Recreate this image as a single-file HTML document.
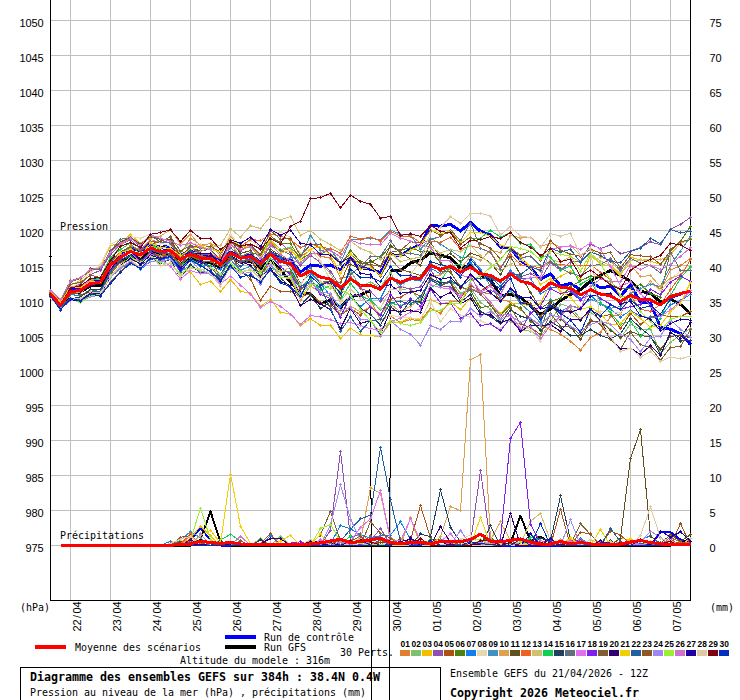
<!DOCTYPE html>
<html lang="fr"><head><meta charset="utf-8"><title>Diagramme des ensembles GEFS</title>
<style>html,body{margin:0;padding:0;background:#fff}svg{display:block}text{font-family:"DejaVu Sans Mono","Liberation Mono",monospace;fill:#000}.s{font-size:11px}.b{font-size:11.5px;font-weight:bold}.t{font-family:"Liberation Sans","DejaVu Sans",sans-serif;font-size:8.4px;font-weight:bold}.n{font-family:"Liberation Sans","DejaVu Sans",sans-serif;font-size:11px}.m{fill:none;stroke-width:1}</style></head><body>
<svg width="740" height="700" viewBox="0 0 740 700" shape-rendering="crispEdges">
<rect width="740" height="700" fill="#fff"/>
<defs>
<marker id="k1" markerUnits="userSpaceOnUse" markerWidth="3" markerHeight="3" refX="1.5" refY="1.5"><path d="M1 0h1v1h1v1h-1v1h-1v-1h-1v-1h1z" fill="#E08030"/></marker>
<marker id="k2" markerUnits="userSpaceOnUse" markerWidth="3" markerHeight="3" refX="1.5" refY="1.5"><path d="M1 0h1v1h1v1h-1v1h-1v-1h-1v-1h1z" fill="#80C070"/></marker>
<marker id="k3" markerUnits="userSpaceOnUse" markerWidth="3" markerHeight="3" refX="1.5" refY="1.5"><path d="M1 0h1v1h1v1h-1v1h-1v-1h-1v-1h1z" fill="#F0C000"/></marker>
<marker id="k4" markerUnits="userSpaceOnUse" markerWidth="3" markerHeight="3" refX="1.5" refY="1.5"><path d="M1 0h1v1h1v1h-1v1h-1v-1h-1v-1h1z" fill="#9050B0"/></marker>
<marker id="k5" markerUnits="userSpaceOnUse" markerWidth="3" markerHeight="3" refX="1.5" refY="1.5"><path d="M1 0h1v1h1v1h-1v1h-1v-1h-1v-1h1z" fill="#B05010"/></marker>
<marker id="k6" markerUnits="userSpaceOnUse" markerWidth="3" markerHeight="3" refX="1.5" refY="1.5"><path d="M1 0h1v1h1v1h-1v1h-1v-1h-1v-1h1z" fill="#508010"/></marker>
<marker id="k7" markerUnits="userSpaceOnUse" markerWidth="3" markerHeight="3" refX="1.5" refY="1.5"><path d="M1 0h1v1h1v1h-1v1h-1v-1h-1v-1h1z" fill="#1080F0"/></marker>
<marker id="k8" markerUnits="userSpaceOnUse" markerWidth="3" markerHeight="3" refX="1.5" refY="1.5"><path d="M1 0h1v1h1v1h-1v1h-1v-1h-1v-1h1z" fill="#E8D8B0"/></marker>
<marker id="k9" markerUnits="userSpaceOnUse" markerWidth="3" markerHeight="3" refX="1.5" refY="1.5"><path d="M1 0h1v1h1v1h-1v1h-1v-1h-1v-1h1z" fill="#4090C0"/></marker>
<marker id="k10" markerUnits="userSpaceOnUse" markerWidth="3" markerHeight="3" refX="1.5" refY="1.5"><path d="M1 0h1v1h1v1h-1v1h-1v-1h-1v-1h1z" fill="#E0A050"/></marker>
<marker id="k11" markerUnits="userSpaceOnUse" markerWidth="3" markerHeight="3" refX="1.5" refY="1.5"><path d="M1 0h1v1h1v1h-1v1h-1v-1h-1v-1h1z" fill="#605020"/></marker>
<marker id="k12" markerUnits="userSpaceOnUse" markerWidth="3" markerHeight="3" refX="1.5" refY="1.5"><path d="M1 0h1v1h1v1h-1v1h-1v-1h-1v-1h1z" fill="#F06020"/></marker>
<marker id="k13" markerUnits="userSpaceOnUse" markerWidth="3" markerHeight="3" refX="1.5" refY="1.5"><path d="M1 0h1v1h1v1h-1v1h-1v-1h-1v-1h1z" fill="#D0C070"/></marker>
<marker id="k14" markerUnits="userSpaceOnUse" markerWidth="3" markerHeight="3" refX="1.5" refY="1.5"><path d="M1 0h1v1h1v1h-1v1h-1v-1h-1v-1h1z" fill="#10D050"/></marker>
<marker id="k15" markerUnits="userSpaceOnUse" markerWidth="3" markerHeight="3" refX="1.5" refY="1.5"><path d="M1 0h1v1h1v1h-1v1h-1v-1h-1v-1h1z" fill="#204060"/></marker>
<marker id="k16" markerUnits="userSpaceOnUse" markerWidth="3" markerHeight="3" refX="1.5" refY="1.5"><path d="M1 0h1v1h1v1h-1v1h-1v-1h-1v-1h1z" fill="#607080"/></marker>
<marker id="k17" markerUnits="userSpaceOnUse" markerWidth="3" markerHeight="3" refX="1.5" refY="1.5"><path d="M1 0h1v1h1v1h-1v1h-1v-1h-1v-1h1z" fill="#E070F0"/></marker>
<marker id="k18" markerUnits="userSpaceOnUse" markerWidth="3" markerHeight="3" refX="1.5" refY="1.5"><path d="M1 0h1v1h1v1h-1v1h-1v-1h-1v-1h1z" fill="#8020F0"/></marker>
<marker id="k19" markerUnits="userSpaceOnUse" markerWidth="3" markerHeight="3" refX="1.5" refY="1.5"><path d="M1 0h1v1h1v1h-1v1h-1v-1h-1v-1h1z" fill="#806030"/></marker>
<marker id="k20" markerUnits="userSpaceOnUse" markerWidth="3" markerHeight="3" refX="1.5" refY="1.5"><path d="M1 0h1v1h1v1h-1v1h-1v-1h-1v-1h1z" fill="#300070"/></marker>
<marker id="k21" markerUnits="userSpaceOnUse" markerWidth="3" markerHeight="3" refX="1.5" refY="1.5"><path d="M1 0h1v1h1v1h-1v1h-1v-1h-1v-1h1z" fill="#F0D000"/></marker>
<marker id="k22" markerUnits="userSpaceOnUse" markerWidth="3" markerHeight="3" refX="1.5" refY="1.5"><path d="M1 0h1v1h1v1h-1v1h-1v-1h-1v-1h1z" fill="#2060A0"/></marker>
<marker id="k23" markerUnits="userSpaceOnUse" markerWidth="3" markerHeight="3" refX="1.5" refY="1.5"><path d="M1 0h1v1h1v1h-1v1h-1v-1h-1v-1h1z" fill="#905820"/></marker>
<marker id="k24" markerUnits="userSpaceOnUse" markerWidth="3" markerHeight="3" refX="1.5" refY="1.5"><path d="M1 0h1v1h1v1h-1v1h-1v-1h-1v-1h1z" fill="#A088F0"/></marker>
<marker id="k25" markerUnits="userSpaceOnUse" markerWidth="3" markerHeight="3" refX="1.5" refY="1.5"><path d="M1 0h1v1h1v1h-1v1h-1v-1h-1v-1h1z" fill="#98F030"/></marker>
<marker id="k26" markerUnits="userSpaceOnUse" markerWidth="3" markerHeight="3" refX="1.5" refY="1.5"><path d="M1 0h1v1h1v1h-1v1h-1v-1h-1v-1h1z" fill="#D070D0"/></marker>
<marker id="k27" markerUnits="userSpaceOnUse" markerWidth="3" markerHeight="3" refX="1.5" refY="1.5"><path d="M1 0h1v1h1v1h-1v1h-1v-1h-1v-1h1z" fill="#2000A0"/></marker>
<marker id="k28" markerUnits="userSpaceOnUse" markerWidth="3" markerHeight="3" refX="1.5" refY="1.5"><path d="M1 0h1v1h1v1h-1v1h-1v-1h-1v-1h1z" fill="#E0C8A0"/></marker>
<marker id="k29" markerUnits="userSpaceOnUse" markerWidth="3" markerHeight="3" refX="1.5" refY="1.5"><path d="M1 0h1v1h1v1h-1v1h-1v-1h-1v-1h1z" fill="#800010"/></marker>
<marker id="k30" markerUnits="userSpaceOnUse" markerWidth="3" markerHeight="3" refX="1.5" refY="1.5"><path d="M1 0h1v1h1v1h-1v1h-1v-1h-1v-1h1z" fill="#0030C0"/></marker>
</defs>
<path d="M70.5 0V600M110.5 0V600M150.5 0V600M190.5 0V600M230.5 0V600M270.5 0V600M310.5 0V600M350.5 0V600M390.5 0V600M430.5 0V600M470.5 0V600M510.5 0V600M550.5 0V600M590.5 0V600M630.5 0V600M670.5 0V600M51 20.5H691M51 55.5H691M51 90.5H691M51 125.5H691M51 160.5H691M51 195.5H691M51 230.5H691M51 265.5H691M51 300.5H691M51 335.5H691M51 370.5H691M51 405.5H691M51 440.5H691M51 475.5H691M51 510.5H691M51 545.5H691" stroke="#c0c0c0" stroke-width="1" fill="none"/>
<path d="M50.5 0V600.5H690.5V0" stroke="#000" stroke-width="1" fill="none"/>
<path d="M49 256.5H52" stroke="#000" stroke-width="1" fill="none"/>
<text class="n" x="19.5 25.5 31.5 37.5" y="27">1050</text>
<text class="n" x="709.5 715.5" y="27">75</text>
<text class="n" x="19.5 25.5 31.5 37.5" y="62">1045</text>
<text class="n" x="709.5 715.5" y="62">70</text>
<text class="n" x="19.5 25.5 31.5 37.5" y="97">1040</text>
<text class="n" x="709.5 715.5" y="97">65</text>
<text class="n" x="19.5 25.5 31.5 37.5" y="132">1035</text>
<text class="n" x="709.5 715.5" y="132">60</text>
<text class="n" x="19.5 25.5 31.5 37.5" y="167">1030</text>
<text class="n" x="709.5 715.5" y="167">55</text>
<text class="n" x="19.5 25.5 31.5 37.5" y="202">1025</text>
<text class="n" x="709.5 715.5" y="202">50</text>
<text class="n" x="19.5 25.5 31.5 37.5" y="237">1020</text>
<text class="n" x="709.5 715.5" y="237">45</text>
<text class="n" x="19.5 25.5 31.5 37.5" y="272">1015</text>
<text class="n" x="709.5 715.5" y="272">40</text>
<text class="n" x="19.5 25.5 31.5 37.5" y="307">1010</text>
<text class="n" x="709.5 715.5" y="307">35</text>
<text class="n" x="19.5 25.5 31.5 37.5" y="342">1005</text>
<text class="n" x="709.5 715.5" y="342">30</text>
<text class="n" x="19.5 25.5 31.5 37.5" y="377">1000</text>
<text class="n" x="709.5 715.5" y="377">25</text>
<text class="n" x="25.5 31.5 37.5" y="412">995</text>
<text class="n" x="709.5 715.5" y="412">20</text>
<text class="n" x="25.5 31.5 37.5" y="447">990</text>
<text class="n" x="709.5 715.5" y="447">15</text>
<text class="n" x="25.5 31.5 37.5" y="482">985</text>
<text class="n" x="709.5 715.5" y="482">10</text>
<text class="n" x="25.5 31.5 37.5" y="517">980</text>
<text class="n" x="709.5" y="517">5</text>
<text class="n" x="25.5 31.5 37.5" y="552">975</text>
<text class="n" x="709.5" y="552">0</text>
<text x="20" y="611" class="s" textLength="30" lengthAdjust="spacingAndGlyphs">(hPa)</text>
<text x="710" y="611" class="s" textLength="24" lengthAdjust="spacingAndGlyphs">(mm)</text>
<text class="n" x="0 6 13.5 18 24" y="0" transform="translate(81,631.5) rotate(-90)">22/04</text>
<text class="n" x="0 6 13.5 18 24" y="0" transform="translate(121,631.5) rotate(-90)">23/04</text>
<text class="n" x="0 6 13.5 18 24" y="0" transform="translate(161,631.5) rotate(-90)">24/04</text>
<text class="n" x="0 6 13.5 18 24" y="0" transform="translate(201,631.5) rotate(-90)">25/04</text>
<text class="n" x="0 6 13.5 18 24" y="0" transform="translate(241,631.5) rotate(-90)">26/04</text>
<text class="n" x="0 6 13.5 18 24" y="0" transform="translate(281,631.5) rotate(-90)">27/04</text>
<text class="n" x="0 6 13.5 18 24" y="0" transform="translate(321,631.5) rotate(-90)">28/04</text>
<text class="n" x="0 6 13.5 18 24" y="0" transform="translate(361,631.5) rotate(-90)">29/04</text>
<text class="n" x="0 6 13.5 18 24" y="0" transform="translate(401,631.5) rotate(-90)">30/04</text>
<text class="n" x="0 6 13.5 18 24" y="0" transform="translate(441,631.5) rotate(-90)">01/05</text>
<text class="n" x="0 6 13.5 18 24" y="0" transform="translate(481,631.5) rotate(-90)">02/05</text>
<text class="n" x="0 6 13.5 18 24" y="0" transform="translate(521,631.5) rotate(-90)">03/05</text>
<text class="n" x="0 6 13.5 18 24" y="0" transform="translate(561,631.5) rotate(-90)">04/05</text>
<text class="n" x="0 6 13.5 18 24" y="0" transform="translate(601,631.5) rotate(-90)">05/05</text>
<text class="n" x="0 6 13.5 18 24" y="0" transform="translate(641,631.5) rotate(-90)">06/05</text>
<text class="n" x="0 6 13.5 18 24" y="0" transform="translate(681,631.5) rotate(-90)">07/05</text>
<polyline fill="none" stroke="#0000ff" stroke-width="3" stroke-linejoin="round" points="50.5,292.5 60.5,303.1 70.5,289.6 80.5,287.3 90.5,280.4 100.5,279.2 110.5,261.4 120.5,253.8 130.5,247.6 140.5,251.0 150.5,243.7 160.5,247.2 170.5,246.3 180.5,255.5 190.5,250.8 200.5,255.7 210.5,256.8 220.5,262.9 230.5,252.1 240.5,256.9 250.5,254.9 260.5,262.2 270.5,252.0 280.5,258.4 290.5,260.4 300.5,272.1 310.5,265.0 320.5,266.2 330.5,265.0 340.5,269.9 350.5,258.5 360.5,267.5 370.5,269.2 380.5,272.4 390.5,254.5 400.5,256.0 410.5,249.2 420.5,245.0 430.5,225.7 440.5,226.1 450.5,224.4 460.5,231.0 470.5,222.4 480.5,231.3 490.5,234.9 500.5,247.1 510.5,248.3 520.5,260.4 530.5,267.7 540.5,279.4 550.5,273.8 560.5,285.9 570.5,283.5 580.5,289.6 590.5,281.8 600.5,287.9 610.5,286.2 620.5,295.9 630.5,285.0 640.5,302.0 650.5,303.2 660.5,327.5 670.5,329.2 680.5,333.6 690.5,344.5"/>
<polyline fill="none" stroke="#000" stroke-width="3" stroke-linejoin="round" points="50.5,295.5 60.5,306.5 70.5,293.7 80.5,291.9 90.5,285.8 100.5,285.2 110.5,268.2 120.5,261.1 130.5,255.7 140.5,259.2 150.5,252.2 160.5,255.6 170.5,254.7 180.5,263.3 190.5,258.2 200.5,262.1 210.5,262.4 220.5,267.9 230.5,257.0 240.5,262.3 250.5,261.0 260.5,268.7 270.5,260.1 280.5,269.9 290.5,282.0 300.5,292.9 310.5,294.1 320.5,303.9 330.5,300.0 340.5,307.5 350.5,296.6 360.5,295.0 370.5,290.5"/>
<polyline fill="none" stroke="#000" stroke-width="3" stroke-linejoin="round" points="390.5,270.0 400.5,270.5 410.5,263.0 420.5,260.1 430.5,252.9 440.5,255.3 450.5,257.7 460.5,268.6 470.5,264.8 480.5,275.0 490.5,279.9 500.5,295.6 510.5,294.4 520.5,297.3 530.5,306.1 540.5,314.3 550.5,309.0 560.5,300.5 570.5,294.4 580.5,289.6 590.5,281.0 600.5,275.2 610.5,270.4 620.5,275.3 630.5,281.4 640.5,291.1 650.5,293.5 660.5,302.0 670.5,299.1 680.5,304.4 690.5,314.1"/>
<path d="M370.5 290.5L371.5 700M390.5 270.0L389.5 700" stroke="#000" stroke-width="1" fill="none"/>
<polyline fill="none" stroke="#0000ff" stroke-width="2" stroke-linejoin="round" points="60.5,545.5 70.5,545.5 80.5,545.5 90.5,545.5 100.5,545.5 110.5,545.5 120.5,545.5 130.5,545.5 140.5,545.5 150.5,545.5 160.5,545.5 170.5,545.5 180.5,545.5 190.5,540.0 200.5,528.0 210.5,540.0 220.5,545.5 230.5,545.5 240.5,545.5 250.5,545.5 260.5,545.5 270.5,545.5 280.5,545.5 290.5,545.5 300.5,545.5 310.5,545.5 320.5,545.5 330.5,545.5 340.5,545.5 350.5,545.5 360.5,545.5 370.5,545.5 380.5,545.5 390.5,545.5 400.5,545.5 410.5,545.5 420.5,545.5 430.5,545.5 440.5,545.5 450.5,545.5 460.5,545.5 470.5,545.5 480.5,545.5 490.5,545.5 500.5,545.5 510.5,545.5 520.5,545.5 530.5,545.5 540.5,545.5 550.5,545.5 560.5,545.5 570.5,545.5 580.5,545.5 590.5,545.5 600.5,545.5 610.5,545.5 620.5,545.5 630.5,545.5 640.5,545.5 650.5,545.5 660.5,532.2 670.5,532.2 680.5,539.5 690.5,542.6"/>
<polyline fill="none" stroke="#000" stroke-width="2" stroke-linejoin="round" points="60.5,545.5 70.5,545.5 80.5,545.5 90.5,545.5 100.5,545.5 110.5,545.5 120.5,545.5 130.5,545.5 140.5,545.5 150.5,545.5 160.5,545.5 170.5,545.5 180.5,545.5 190.5,545.5 200.5,539.5 210.5,511.5 220.5,542.3 230.5,545.5 240.5,545.5 250.5,545.5 260.5,545.5 270.5,545.5 280.5,545.5 290.5,545.5 300.5,545.5 310.5,545.5 320.5,545.5 330.5,545.5 340.5,545.5 350.5,545.5 360.5,545.5 370.5,545.5 380.5,545.5 390.5,545.5 400.5,545.5 410.5,545.5 420.5,545.5 430.5,545.5 440.5,545.5 450.5,545.5 460.5,545.5 470.5,545.5 480.5,545.5 490.5,545.5 500.5,545.5 510.5,543.0 520.5,515.7 530.5,541.0 540.5,536.6 550.5,543.0 560.5,545.5 570.5,545.5 580.5,545.5 590.5,545.5 600.5,545.5 610.5,545.5 620.5,545.5 630.5,545.5 640.5,545.5 650.5,545.5 660.5,545.5 670.5,545.5 680.5,543.0 690.5,538.4"/>
<polyline class="m" stroke="#E08030" marker-start="url(#k1)" marker-mid="url(#k1)" marker-end="url(#k1)" points="50.5,293.7 60.5,304.2 70.5,290.4 80.5,289.7 90.5,283.0 100.5,281.2 110.5,262.1 120.5,253.3 130.5,245.7 140.5,249.8 150.5,239.7 160.5,242.5 170.5,242.8 180.5,254.1 190.5,238.3 200.5,244.8 210.5,243.7 220.5,256.1 230.5,235.8 240.5,249.9 250.5,244.5 260.5,256.3 270.5,242.4 280.5,251.1 290.5,247.9 300.5,256.5 310.5,250.3 320.5,256.2 330.5,258.2 340.5,278.1 350.5,276.7 360.5,287.9 370.5,299.5 380.5,319.9 390.5,316.0 400.5,322.6 410.5,319.7 420.5,320.7 430.5,308.4 440.5,313.2 450.5,301.6 460.5,301.5 470.5,288.2 480.5,292.6 490.5,293.5 500.5,299.2 510.5,302.0 520.5,309.6 530.5,319.0 540.5,325.7 550.5,329.5 560.5,334.2 570.5,341.2 580.5,350.0 590.5,337.7 600.5,332.4 610.5,316.6 620.5,314.6 630.5,292.1 640.5,291.3 650.5,281.7 660.5,289.6 670.5,269.9 680.5,265.8 690.5,258.2"/>
<polyline class="m" stroke="#80C070" marker-start="url(#k2)" marker-mid="url(#k2)" marker-end="url(#k2)" points="50.5,292.6 60.5,303.2 70.5,288.0 80.5,287.3 90.5,279.2 100.5,279.0 110.5,265.0 120.5,252.5 130.5,248.2 140.5,257.9 150.5,246.1 160.5,248.8 170.5,244.5 180.5,252.0 190.5,242.3 200.5,248.0 210.5,248.2 220.5,253.0 230.5,239.8 240.5,244.7 250.5,247.8 260.5,257.1 270.5,240.5 280.5,249.5 290.5,247.3 300.5,264.8 310.5,254.9 320.5,263.0 330.5,273.9 340.5,289.8 350.5,271.3 360.5,286.5 370.5,282.0 380.5,287.2 390.5,272.5 400.5,289.6 410.5,288.6 420.5,302.0 430.5,276.8 440.5,286.8 450.5,280.2 460.5,293.4 470.5,287.7 480.5,302.4 490.5,309.2 500.5,321.5 510.5,321.0 520.5,329.5 530.5,331.3 540.5,337.0 550.5,321.9 560.5,304.0 570.5,307.0 580.5,318.6 590.5,312.0 600.5,320.9 610.5,329.3 620.5,338.4 630.5,324.0 640.5,329.4 650.5,329.0 660.5,353.4 670.5,342.3 680.5,334.9 690.5,328.5"/>
<polyline class="m" stroke="#F0C000" marker-start="url(#k3)" marker-mid="url(#k3)" marker-end="url(#k3)" points="50.5,291.3 60.5,301.8 70.5,284.9 80.5,280.5 90.5,270.3 100.5,266.8 110.5,245.5 120.5,243.2 130.5,234.3 140.5,244.0 150.5,238.0 160.5,250.0 170.5,255.0 180.5,268.0 190.5,272.0 200.5,284.6 210.5,281.0 220.5,291.7 230.5,279.6 240.5,291.2 250.5,293.6 260.5,306.3 270.5,299.5 280.5,312.3 290.5,314.0 300.5,325.4 310.5,318.8 320.5,325.4 330.5,325.4 340.5,338.3 350.5,328.2 360.5,334.9 370.5,335.8 380.5,336.4 390.5,322.6 400.5,322.0 410.5,318.0 420.5,320.0 430.5,299.9 440.5,304.0 450.5,302.0 460.5,309.6 470.5,298.0 480.5,307.7 490.5,305.8 500.5,313.4 510.5,303.0 520.5,303.9 530.5,305.8 540.5,303.9 550.5,282.1 560.5,276.2 570.5,271.4 580.5,279.3 590.5,255.5 600.5,264.1 610.5,266.1 620.5,276.1 630.5,257.2 640.5,259.9 650.5,261.3 660.5,264.5 670.5,253.9 680.5,243.7 690.5,238.2"/>
<polyline class="m" stroke="#9050B0" marker-start="url(#k4)" marker-mid="url(#k4)" marker-end="url(#k4)" points="50.5,292.6 60.5,304.0 70.5,287.8 80.5,283.8 90.5,274.5 100.5,270.3 110.5,254.2 120.5,245.0 130.5,239.8 140.5,249.7 150.5,241.1 160.5,242.9 170.5,240.0 180.5,257.9 190.5,245.4 200.5,253.8 210.5,253.0 220.5,260.6 230.5,244.4 240.5,251.1 250.5,245.2 260.5,256.7 270.5,238.3 280.5,242.2 290.5,252.3 300.5,265.7 310.5,255.2 320.5,262.5 330.5,271.3 340.5,286.7 350.5,277.5 360.5,288.7 370.5,291.5 380.5,301.2 390.5,289.9 400.5,286.8 410.5,289.0 420.5,286.9 430.5,269.4 440.5,285.6 450.5,287.1 460.5,296.8 470.5,288.5 480.5,293.8 490.5,290.4 500.5,295.0 510.5,272.2 520.5,276.8 530.5,273.4 540.5,279.6 550.5,262.7 560.5,270.3 570.5,262.0 580.5,261.1 590.5,244.2 600.5,248.6 610.5,244.9 620.5,253.9 630.5,251.0 640.5,247.4 650.5,241.8 660.5,244.9 670.5,229.1 680.5,224.3 690.5,217.5"/>
<polyline class="m" stroke="#B05010" marker-start="url(#k5)" marker-mid="url(#k5)" marker-end="url(#k5)" points="50.5,291.5 60.5,299.7 70.5,280.9 80.5,277.4 90.5,270.8 100.5,268.8 110.5,252.0 120.5,243.0 130.5,237.8 140.5,245.8 150.5,236.9 160.5,239.0 170.5,240.4 180.5,258.2 190.5,246.9 200.5,255.8 210.5,258.2 220.5,277.4 230.5,254.6 240.5,270.5 250.5,279.0 260.5,300.2 270.5,286.1 280.5,291.2 290.5,291.2 300.5,296.6 310.5,293.9 320.5,302.6 330.5,305.6 340.5,315.0 350.5,308.4 360.5,315.0 370.5,306.5 380.5,315.0 390.5,299.0 400.5,297.1 410.5,291.4 420.5,296.3 430.5,279.6 440.5,285.7 450.5,282.2 460.5,297.4 470.5,285.5 480.5,291.1 490.5,284.4 500.5,301.8 510.5,290.2 520.5,302.5 530.5,303.3 540.5,316.7 550.5,302.4 560.5,313.0 570.5,310.0 580.5,320.9 590.5,309.5 600.5,316.9 610.5,314.3 620.5,328.6 630.5,313.3 640.5,324.5 650.5,316.6 660.5,315.7 670.5,316.3 680.5,316.6 690.5,311.4"/>
<polyline class="m" stroke="#508010" marker-start="url(#k6)" marker-mid="url(#k6)" marker-end="url(#k6)" points="50.5,296.0 60.5,307.0 70.5,294.6 80.5,295.7 90.5,289.7 100.5,291.7 110.5,274.2 120.5,262.1 130.5,259.0 140.5,260.4 150.5,254.6 160.5,255.8 170.5,255.5 180.5,265.2 190.5,255.8 200.5,259.9 210.5,257.2 220.5,262.1 230.5,253.2 240.5,257.3 250.5,252.1 260.5,255.7 270.5,236.1 280.5,243.2 290.5,243.8 300.5,259.4 310.5,253.5 320.5,254.1 330.5,249.0 340.5,264.5 350.5,250.3 360.5,261.8 370.5,262.7 380.5,257.0 390.5,246.6 400.5,250.4 410.5,247.5 420.5,251.6 430.5,251.3 440.5,262.3 450.5,272.2 460.5,286.8 470.5,290.7 480.5,307.7 490.5,305.8 500.5,315.3 510.5,304.9 520.5,307.7 530.5,321.0 540.5,329.5 550.5,301.6 560.5,298.0 570.5,286.4 580.5,280.9 590.5,276.0 600.5,276.1 610.5,284.3 620.5,288.6 630.5,288.7 640.5,284.2 650.5,293.7 660.5,297.0 670.5,249.8 680.5,241.3 690.5,226.2"/>
<polyline class="m" stroke="#1080F0" marker-start="url(#k7)" marker-mid="url(#k7)" marker-end="url(#k7)" points="50.5,295.2 60.5,306.5 70.5,294.0 80.5,296.2 90.5,291.7 100.5,293.1 110.5,277.1 120.5,268.9 130.5,261.8 140.5,269.3 150.5,261.4 160.5,260.5 170.5,257.4 180.5,265.9 190.5,260.0 200.5,266.4 210.5,265.5 220.5,269.9 230.5,256.9 240.5,261.1 250.5,258.5 260.5,266.4 270.5,255.0 280.5,258.0 290.5,265.2 300.5,283.8 310.5,273.0 320.5,283.3 330.5,296.0 340.5,306.4 350.5,297.3 360.5,306.6 370.5,298.3 380.5,298.5 390.5,278.4 400.5,284.9 410.5,279.8 420.5,280.4 430.5,267.9 440.5,273.9 450.5,266.6 460.5,271.2 470.5,262.8 480.5,275.0 490.5,278.0 500.5,282.6 510.5,270.6 520.5,278.6 530.5,278.5 540.5,293.8 550.5,287.9 560.5,287.2 570.5,289.3 580.5,298.8 590.5,295.1 600.5,304.4 610.5,309.1 620.5,317.0 630.5,310.6 640.5,316.2 650.5,317.7 660.5,316.8 670.5,304.9 680.5,300.6 690.5,294.2"/>
<polyline class="m" stroke="#E8D8B0" marker-start="url(#k8)" marker-mid="url(#k8)" marker-end="url(#k8)" points="50.5,294.3 60.5,303.8 70.5,287.9 80.5,282.4 90.5,272.7 100.5,264.9 110.5,243.9 120.5,239.8 130.5,236.6 140.5,238.2 150.5,234.2 160.5,243.0 170.5,246.0 180.5,252.5 190.5,243.0 200.5,244.9 210.5,246.5 220.5,253.6 230.5,234.6 240.5,246.0 250.5,240.5 260.5,247.0 270.5,235.1 280.5,231.9 290.5,237.6 300.5,253.8 310.5,249.0 320.5,261.2 330.5,280.2 340.5,303.3 350.5,295.8 360.5,309.1 370.5,315.1 380.5,321.8 390.5,315.1 400.5,317.0 410.5,317.9 420.5,318.9 430.5,301.4 440.5,321.8 450.5,308.7 460.5,315.2 470.5,317.2 480.5,320.9 490.5,324.6 500.5,328.8 510.5,319.4 520.5,325.1 530.5,329.9 540.5,341.4 550.5,320.8 560.5,320.0 570.5,315.5 580.5,318.4 590.5,314.9 600.5,311.1 610.5,311.6 620.5,313.0 630.5,290.9 640.5,291.2 650.5,282.6 660.5,290.8 670.5,279.7 680.5,270.9 690.5,265.7"/>
<polyline class="m" stroke="#4090C0" marker-start="url(#k9)" marker-mid="url(#k9)" marker-end="url(#k9)" points="50.5,296.9 60.5,309.8 70.5,299.2 80.5,301.8 90.5,296.3 100.5,294.2 110.5,276.9 120.5,267.2 130.5,262.8 140.5,268.9 150.5,257.1 160.5,262.7 170.5,259.0 180.5,271.6 190.5,265.3 200.5,271.2 210.5,273.1 220.5,277.8 230.5,259.7 240.5,270.2 250.5,266.2 260.5,275.9 270.5,258.7 280.5,262.8 290.5,257.7 300.5,258.0 310.5,235.2 320.5,250.4 330.5,249.4 340.5,262.7 350.5,240.0 360.5,239.5 370.5,238.0 380.5,240.0 390.5,230.0 400.5,234.3 410.5,235.2 420.5,249.4 430.5,238.0 440.5,244.2 450.5,250.4 460.5,257.2 470.5,256.9 480.5,269.5 490.5,286.4 500.5,297.7 510.5,290.8 520.5,303.5 530.5,312.4 540.5,322.9 550.5,299.1 560.5,311.8 570.5,305.7 580.5,307.9 590.5,299.1 600.5,303.6 610.5,308.2 620.5,306.6 630.5,293.7 640.5,288.8 650.5,284.2 660.5,286.8 670.5,265.6 680.5,251.0 690.5,236.4"/>
<polyline class="m" stroke="#E0A050" marker-start="url(#k10)" marker-mid="url(#k10)" marker-end="url(#k10)" points="50.5,294.4 60.5,306.9 70.5,293.3 80.5,292.6 90.5,284.6 100.5,281.5 110.5,259.3 120.5,245.7 130.5,237.9 140.5,243.0 150.5,237.0 160.5,236.0 170.5,229.8 180.5,243.9 190.5,234.2 200.5,246.3 210.5,243.1 220.5,249.0 230.5,243.9 240.5,256.1 250.5,259.3 260.5,271.2 270.5,264.3 280.5,277.1 290.5,278.6 300.5,300.1 310.5,285.8 320.5,293.0 330.5,296.5 340.5,314.9 350.5,306.0 360.5,312.0 370.5,306.5 380.5,314.0 390.5,303.6 400.5,312.2 410.5,306.0 420.5,299.4 430.5,276.4 440.5,274.9 450.5,268.8 460.5,269.2 470.5,256.2 480.5,260.4 490.5,250.0 500.5,252.7 510.5,235.2 520.5,238.0 530.5,237.0 540.5,246.6 550.5,243.0 560.5,247.0 570.5,246.0 580.5,255.0 590.5,249.4 600.5,257.0 610.5,260.8 620.5,271.9 630.5,264.7 640.5,276.5 650.5,275.6 660.5,286.8 670.5,278.1 680.5,274.7 690.5,267.5"/>
<polyline class="m" stroke="#605020" marker-start="url(#k11)" marker-mid="url(#k11)" marker-end="url(#k11)" points="50.5,291.1 60.5,299.4 70.5,281.7 80.5,278.4 90.5,268.9 100.5,268.8 110.5,250.7 120.5,242.0 130.5,237.3 140.5,244.5 150.5,236.9 160.5,239.5 170.5,239.4 180.5,255.8 190.5,247.5 200.5,251.1 210.5,249.1 220.5,260.9 230.5,239.7 240.5,253.4 250.5,250.6 260.5,266.5 270.5,249.1 280.5,255.9 290.5,262.4 300.5,284.1 310.5,271.0 320.5,282.1 330.5,283.6 340.5,298.4 350.5,264.3 360.5,269.4 370.5,260.9 380.5,266.6 390.5,245.4 400.5,252.5 410.5,259.1 420.5,265.5 430.5,242.6 440.5,257.3 450.5,253.6 460.5,261.8 470.5,253.4 480.5,256.2 490.5,263.2 500.5,274.8 510.5,256.6 520.5,275.0 530.5,292.4 540.5,308.6 550.5,301.7 560.5,319.0 570.5,327.2 580.5,339.5 590.5,321.0 600.5,321.0 610.5,330.4 620.5,337.5 630.5,331.2 640.5,335.5 650.5,336.9 660.5,349.5 670.5,336.3 680.5,335.4 690.5,337.7"/>
<polyline class="m" stroke="#F06020" marker-start="url(#k12)" marker-mid="url(#k12)" marker-end="url(#k12)" points="50.5,296.3 60.5,308.9 70.5,298.7 80.5,300.2 90.5,292.7 100.5,292.0 110.5,271.8 120.5,262.7 130.5,260.4 140.5,261.9 150.5,252.2 160.5,255.5 170.5,252.8 180.5,260.5 190.5,253.4 200.5,255.2 210.5,254.4 220.5,258.1 230.5,243.2 240.5,246.7 250.5,239.2 260.5,240.8 270.5,234.3 280.5,236.0 290.5,240.0 300.5,247.5 310.5,243.8 320.5,247.5 330.5,248.5 340.5,253.2 350.5,236.2 360.5,239.0 370.5,237.1 380.5,241.0 390.5,231.5 400.5,236.2 410.5,236.0 420.5,242.8 430.5,241.0 440.5,242.4 450.5,237.3 460.5,249.2 470.5,245.7 480.5,248.5 490.5,252.2 500.5,267.5 510.5,254.2 520.5,264.8 530.5,266.5 540.5,267.5 550.5,262.7 560.5,264.6 570.5,265.5 580.5,265.1 590.5,265.1 600.5,272.0 610.5,279.9 620.5,296.8 630.5,296.0 640.5,309.2 650.5,311.4 660.5,304.3 670.5,289.8 680.5,276.0 690.5,259.8"/>
<polyline class="m" stroke="#D0C070" marker-start="url(#k13)" marker-mid="url(#k13)" marker-end="url(#k13)" points="50.5,296.1 60.5,309.4 70.5,298.2 80.5,298.7 90.5,293.3 100.5,294.2 110.5,275.6 120.5,267.0 130.5,258.7 140.5,263.1 150.5,255.8 160.5,256.4 170.5,256.6 180.5,261.8 190.5,253.7 200.5,251.8 210.5,246.6 220.5,245.6 230.5,228.6 240.5,237.1 250.5,225.7 260.5,228.6 270.5,216.4 280.5,220.0 290.5,216.4 300.5,235.2 310.5,230.5 320.5,239.0 330.5,244.7 340.5,250.4 350.5,241.0 360.5,248.5 370.5,252.3 380.5,259.8 390.5,252.3 400.5,261.7 410.5,259.0 420.5,257.0 430.5,246.0 440.5,253.0 450.5,249.5 460.5,251.5 470.5,245.6 480.5,255.5 490.5,263.9 500.5,270.6 510.5,264.0 520.5,259.8 530.5,266.2 540.5,271.0 550.5,259.5 560.5,262.1 570.5,256.6 580.5,261.6 590.5,253.6 600.5,261.2 610.5,265.3 620.5,273.5 630.5,260.4 640.5,260.1 650.5,259.7 660.5,259.8 670.5,255.4 680.5,242.8 690.5,239.2"/>
<polyline class="m" stroke="#10D050" marker-start="url(#k14)" marker-mid="url(#k14)" marker-end="url(#k14)" points="50.5,293.7 60.5,305.5 70.5,291.5 80.5,289.2 90.5,281.5 100.5,277.3 110.5,257.1 120.5,249.5 130.5,242.8 140.5,255.3 150.5,242.9 160.5,250.4 170.5,253.8 180.5,266.0 190.5,258.9 200.5,264.8 210.5,265.7 220.5,280.0 230.5,267.4 240.5,272.3 250.5,269.8 260.5,273.6 270.5,268.0 280.5,271.8 290.5,271.1 300.5,287.2 310.5,278.8 320.5,290.5 330.5,285.4 340.5,300.1 350.5,283.3 360.5,295.6 370.5,300.3 380.5,309.7 390.5,303.0 400.5,305.5 410.5,302.7 420.5,302.3 430.5,288.0 440.5,281.4 450.5,265.7 460.5,264.0 470.5,238.5 480.5,238.0 490.5,230.5 500.5,237.0 510.5,232.4 520.5,243.8 530.5,244.7 540.5,256.0 550.5,257.0 560.5,270.0 570.5,266.0 580.5,284.2 590.5,278.6 600.5,302.3 610.5,312.9 620.5,324.5 630.5,321.0 640.5,336.0 650.5,327.0 660.5,318.0 670.5,295.5 680.5,278.2 690.5,266.6"/>
<polyline class="m" stroke="#204060" marker-start="url(#k15)" marker-mid="url(#k15)" marker-end="url(#k15)" points="50.5,295.8 60.5,307.7 70.5,298.7 80.5,297.0 90.5,289.8 100.5,289.2 110.5,271.6 120.5,261.1 130.5,256.6 140.5,265.0 150.5,258.5 160.5,263.0 170.5,259.3 180.5,278.1 190.5,264.6 200.5,273.3 210.5,270.3 220.5,280.1 230.5,264.3 240.5,272.6 250.5,276.3 260.5,281.0 270.5,269.9 280.5,277.9 290.5,287.4 300.5,305.4 310.5,294.8 320.5,308.7 330.5,302.1 340.5,317.0 350.5,294.3 360.5,308.7 370.5,314.2 380.5,325.1 390.5,306.7 400.5,314.0 410.5,300.6 420.5,302.0 430.5,278.2 440.5,283.0 450.5,282.9 460.5,302.0 470.5,294.6 480.5,311.5 490.5,316.5 500.5,323.9 510.5,310.1 520.5,316.0 530.5,319.3 540.5,330.9 550.5,321.3 560.5,327.8 570.5,335.4 580.5,335.4 590.5,329.6 600.5,335.4 610.5,338.8 620.5,334.0 630.5,318.4 640.5,328.0 650.5,336.0 660.5,354.4 670.5,332.0 680.5,341.0 690.5,340.3"/>
<polyline class="m" stroke="#607080" marker-start="url(#k16)" marker-mid="url(#k16)" marker-end="url(#k16)" points="50.5,291.4 60.5,300.3 70.5,282.0 80.5,278.2 90.5,269.7 100.5,269.2 110.5,250.8 120.5,239.2 130.5,237.7 140.5,246.5 150.5,236.0 160.5,241.8 170.5,243.1 180.5,258.9 190.5,247.0 200.5,254.2 210.5,255.3 220.5,264.1 230.5,247.6 240.5,256.4 250.5,252.3 260.5,263.0 270.5,245.0 280.5,250.2 290.5,254.6 300.5,275.5 310.5,267.8 320.5,282.5 330.5,280.8 340.5,294.6 350.5,274.7 360.5,266.3 370.5,256.9 380.5,256.5 390.5,240.9 400.5,254.1 410.5,253.2 420.5,255.3 430.5,239.5 440.5,236.5 450.5,230.0 460.5,240.5 470.5,223.0 480.5,248.2 490.5,252.5 500.5,269.2 510.5,250.3 520.5,258.0 530.5,256.0 540.5,265.9 550.5,261.7 560.5,268.3 570.5,273.0 580.5,276.0 590.5,265.5 600.5,264.6 610.5,258.8 620.5,270.3 630.5,258.3 640.5,263.0 650.5,265.6 660.5,272.9 670.5,252.2 680.5,270.4 690.5,270.4"/>
<polyline class="m" stroke="#E070F0" marker-start="url(#k17)" marker-mid="url(#k17)" marker-end="url(#k17)" points="50.5,293.3 60.5,303.5 70.5,286.6 80.5,285.7 90.5,280.7 100.5,282.2 110.5,268.5 120.5,255.3 130.5,251.0 140.5,264.3 150.5,254.0 160.5,259.2 170.5,266.3 180.5,279.2 190.5,270.7 200.5,273.4 210.5,273.4 220.5,284.0 230.5,276.0 240.5,285.0 250.5,294.0 260.5,307.5 270.5,301.5 280.5,306.3 290.5,314.0 300.5,324.5 310.5,315.6 320.5,316.9 330.5,319.7 340.5,323.5 350.5,322.6 360.5,325.4 370.5,328.8 380.5,329.6 390.5,321.6 400.5,318.0 410.5,312.0 420.5,309.1 430.5,284.8 440.5,287.7 450.5,289.1 460.5,296.5 470.5,283.9 480.5,292.5 490.5,286.2 500.5,295.6 510.5,273.6 520.5,280.7 530.5,277.7 540.5,276.5 550.5,249.5 560.5,247.0 570.5,245.9 580.5,249.5 590.5,242.9 600.5,249.5 610.5,266.6 620.5,286.1 630.5,281.9 640.5,293.3 650.5,306.4 660.5,316.5 670.5,309.9 680.5,301.6 690.5,290.6"/>
<polyline class="m" stroke="#8020F0" marker-start="url(#k18)" marker-mid="url(#k18)" marker-end="url(#k18)" points="50.5,297.3 60.5,309.5 70.5,300.1 80.5,301.2 90.5,294.8 100.5,291.8 110.5,271.4 120.5,256.4 130.5,249.9 140.5,262.1 150.5,251.4 160.5,258.1 170.5,254.8 180.5,272.0 190.5,259.1 200.5,262.0 210.5,268.0 220.5,276.6 230.5,257.6 240.5,262.5 250.5,258.8 260.5,276.9 270.5,254.9 280.5,266.6 290.5,274.7 300.5,288.6 310.5,281.5 320.5,294.3 330.5,298.7 340.5,317.4 350.5,295.8 360.5,295.1 370.5,307.0 380.5,315.6 390.5,294.2 400.5,307.4 410.5,298.8 420.5,306.1 430.5,289.1 440.5,303.0 450.5,303.0 460.5,318.0 470.5,313.4 480.5,325.7 490.5,323.8 500.5,330.8 510.5,318.0 520.5,330.4 530.5,313.4 540.5,306.0 550.5,288.6 560.5,293.7 570.5,291.3 580.5,300.5 590.5,288.2 600.5,298.7 610.5,304.1 620.5,309.4 630.5,306.6 640.5,304.6 650.5,289.1 660.5,294.8 670.5,282.1 680.5,275.9 690.5,281.5"/>
<polyline class="m" stroke="#806030" marker-start="url(#k19)" marker-mid="url(#k19)" marker-end="url(#k19)" points="50.5,291.8 60.5,301.4 70.5,284.4 80.5,282.4 90.5,275.2 100.5,277.6 110.5,262.0 120.5,252.0 130.5,247.0 140.5,251.0 150.5,244.0 160.5,241.5 170.5,236.9 180.5,251.2 190.5,245.5 200.5,248.0 210.5,246.3 220.5,252.0 230.5,242.4 240.5,247.5 250.5,245.3 260.5,254.4 270.5,230.5 280.5,239.1 290.5,238.5 300.5,255.7 310.5,244.6 320.5,244.8 330.5,254.2 340.5,263.7 350.5,253.8 360.5,263.4 370.5,264.7 380.5,276.5 390.5,258.6 400.5,269.8 410.5,272.1 420.5,275.6 430.5,263.0 440.5,271.9 450.5,271.5 460.5,288.4 470.5,275.4 480.5,294.1 490.5,305.1 500.5,319.0 510.5,307.4 520.5,323.9 530.5,327.5 540.5,334.6 550.5,313.9 560.5,326.0 570.5,326.4 580.5,335.1 590.5,319.7 600.5,324.3 610.5,339.5 620.5,349.0 630.5,332.4 640.5,344.7 650.5,347.4 660.5,360.5 670.5,347.4 680.5,346.5 690.5,329.8"/>
<polyline class="m" stroke="#300070" marker-start="url(#k20)" marker-mid="url(#k20)" marker-end="url(#k20)" points="50.5,294.4 60.5,304.7 70.5,292.0 80.5,291.3 90.5,286.3 100.5,283.4 110.5,270.0 120.5,256.6 130.5,251.9 140.5,258.8 150.5,248.4 160.5,250.6 170.5,248.2 180.5,260.5 190.5,254.9 200.5,253.4 210.5,253.1 220.5,266.6 230.5,257.6 240.5,261.5 250.5,265.2 260.5,276.5 270.5,268.8 280.5,281.2 290.5,285.6 300.5,305.7 310.5,299.4 320.5,303.7 330.5,309.8 340.5,328.5 350.5,308.4 360.5,323.5 370.5,320.5 380.5,334.6 390.5,310.2 400.5,311.4 410.5,310.7 420.5,312.2 430.5,288.4 440.5,297.1 450.5,292.6 460.5,303.9 470.5,298.2 480.5,314.3 490.5,314.3 500.5,322.8 510.5,319.0 520.5,331.3 530.5,325.7 540.5,325.7 550.5,324.7 560.5,331.3 570.5,319.0 580.5,320.0 590.5,308.7 600.5,321.0 610.5,337.7 620.5,349.1 630.5,348.2 640.5,354.4 650.5,345.6 660.5,355.3 670.5,332.4 680.5,338.0 690.5,322.8"/>
<polyline class="m" stroke="#F0D000" marker-start="url(#k21)" marker-mid="url(#k21)" marker-end="url(#k21)" points="50.5,291.8 60.5,302.1 70.5,287.5 80.5,287.4 90.5,281.4 100.5,281.2 110.5,265.5 120.5,252.4 130.5,249.9 140.5,256.2 150.5,242.9 160.5,247.8 170.5,248.2 180.5,255.8 190.5,249.4 200.5,245.9 210.5,249.5 220.5,251.8 230.5,239.4 240.5,246.1 250.5,246.4 260.5,257.5 270.5,238.8 280.5,253.0 290.5,250.2 300.5,259.9 310.5,249.0 320.5,246.4 330.5,255.0 340.5,273.7 350.5,253.0 360.5,269.3 370.5,267.4 380.5,275.0 390.5,255.0 400.5,256.0 410.5,250.4 420.5,245.6 430.5,229.6 440.5,233.5 450.5,231.2 460.5,242.8 470.5,232.4 480.5,232.4 490.5,236.2 500.5,245.6 510.5,246.6 520.5,256.0 530.5,267.4 540.5,284.4 550.5,278.8 560.5,291.5 570.5,297.4 580.5,309.4 590.5,306.8 600.5,314.0 610.5,324.5 620.5,323.7 630.5,311.4 640.5,318.4 650.5,327.2 660.5,325.4 670.5,311.4 680.5,303.0 690.5,282.4"/>
<polyline class="m" stroke="#2060A0" marker-start="url(#k22)" marker-mid="url(#k22)" marker-end="url(#k22)" points="50.5,296.0 60.5,307.9 70.5,297.6 80.5,299.9 90.5,291.1 100.5,291.6 110.5,271.9 120.5,259.6 130.5,255.3 140.5,264.6 150.5,250.4 160.5,253.1 170.5,253.7 180.5,265.3 190.5,250.0 200.5,260.0 210.5,266.8 220.5,275.0 230.5,256.4 240.5,266.5 250.5,259.0 260.5,279.0 270.5,252.1 280.5,256.8 290.5,268.7 300.5,286.2 310.5,282.1 320.5,287.2 330.5,308.0 340.5,331.1 350.5,316.9 360.5,331.0 370.5,320.7 380.5,319.7 390.5,302.7 400.5,301.2 410.5,304.5 420.5,296.4 430.5,280.0 440.5,285.3 450.5,280.6 460.5,286.8 470.5,279.3 480.5,278.6 490.5,277.1 500.5,286.4 510.5,275.0 520.5,274.7 530.5,266.9 540.5,270.3 550.5,248.0 560.5,252.1 570.5,249.4 580.5,262.2 590.5,252.2 600.5,255.6 610.5,261.4 620.5,262.7 630.5,251.5 640.5,248.1 650.5,238.4 660.5,243.7 670.5,229.6 680.5,232.8 690.5,231.1"/>
<polyline class="m" stroke="#905820" marker-start="url(#k23)" marker-mid="url(#k23)" marker-end="url(#k23)" points="50.5,293.3 60.5,304.3 70.5,293.2 80.5,294.3 90.5,293.0 100.5,295.5 110.5,282.0 120.5,271.5 130.5,262.5 140.5,268.0 150.5,259.0 160.5,257.8 170.5,254.1 180.5,264.2 190.5,256.1 200.5,261.1 210.5,261.5 220.5,266.7 230.5,258.7 240.5,261.7 250.5,260.1 260.5,274.8 270.5,262.8 280.5,270.1 290.5,272.3 300.5,289.1 310.5,283.6 320.5,284.7 330.5,280.2 340.5,282.7 350.5,259.8 360.5,262.7 370.5,264.6 380.5,266.5 390.5,252.3 400.5,250.4 410.5,241.9 420.5,242.8 430.5,230.5 440.5,235.3 450.5,232.0 460.5,244.0 470.5,237.0 480.5,243.7 490.5,248.1 500.5,259.1 510.5,247.9 520.5,255.3 530.5,251.0 540.5,260.4 550.5,240.6 560.5,250.1 570.5,254.2 580.5,256.1 590.5,248.9 600.5,253.2 610.5,252.9 620.5,267.9 630.5,254.7 640.5,255.9 650.5,256.7 660.5,264.1 670.5,250.8 680.5,241.8 690.5,239.7"/>
<polyline class="m" stroke="#A088F0" marker-start="url(#k24)" marker-mid="url(#k24)" marker-end="url(#k24)" points="50.5,297.5 60.5,308.9 70.5,300.4 80.5,301.3 90.5,296.8 100.5,295.0 110.5,277.0 120.5,268.7 130.5,260.8 140.5,268.2 150.5,261.1 160.5,261.8 170.5,259.1 180.5,269.1 190.5,259.9 200.5,270.7 210.5,274.7 220.5,281.9 230.5,267.6 240.5,273.7 250.5,272.4 260.5,284.9 270.5,264.7 280.5,275.9 290.5,275.0 300.5,293.9 310.5,282.1 320.5,292.0 330.5,293.5 340.5,310.0 350.5,307.7 360.5,319.1 370.5,320.4 380.5,336.1 390.5,320.8 400.5,329.3 410.5,334.2 420.5,345.1 430.5,325.7 440.5,329.5 450.5,321.0 460.5,321.9 470.5,308.6 480.5,316.2 490.5,311.5 500.5,319.0 510.5,315.3 520.5,322.8 530.5,318.0 540.5,325.2 550.5,314.7 560.5,317.4 570.5,326.5 580.5,330.9 590.5,324.6 600.5,321.0 610.5,324.5 620.5,334.2 630.5,339.5 640.5,351.8 650.5,337.7 660.5,336.0 670.5,320.0 680.5,329.0 690.5,337.7"/>
<polyline class="m" stroke="#98F030" marker-start="url(#k25)" marker-mid="url(#k25)" marker-end="url(#k25)" points="50.5,297.1 60.5,309.6 70.5,298.8 80.5,302.8 90.5,295.8 100.5,293.9 110.5,276.4 120.5,265.0 130.5,257.3 140.5,262.8 150.5,255.5 160.5,262.9 170.5,263.4 180.5,274.0 190.5,267.4 200.5,270.2 210.5,267.4 220.5,274.8 230.5,263.5 240.5,271.4 250.5,270.4 260.5,273.0 270.5,256.7 280.5,277.9 290.5,277.4 300.5,296.9 310.5,284.1 320.5,284.0 330.5,288.6 340.5,290.0 350.5,295.0 360.5,309.3 370.5,320.7 380.5,332.0 390.5,320.7 400.5,323.5 410.5,325.4 420.5,322.6 430.5,310.0 440.5,310.4 450.5,303.3 460.5,303.9 470.5,280.9 480.5,275.8 490.5,267.2 500.5,259.8 510.5,246.6 520.5,248.5 530.5,251.3 540.5,259.8 550.5,251.3 560.5,254.5 570.5,256.0 580.5,271.0 590.5,254.0 600.5,263.6 610.5,280.4 620.5,295.6 630.5,298.2 640.5,311.2 650.5,321.7 660.5,330.6 670.5,319.2 680.5,316.3 690.5,316.1"/>
<polyline class="m" stroke="#D070D0" marker-start="url(#k26)" marker-mid="url(#k26)" marker-end="url(#k26)" points="50.5,290.3 60.5,299.6 70.5,281.1 80.5,277.7 90.5,269.4 100.5,267.8 110.5,252.3 120.5,243.6 130.5,238.4 140.5,245.6 150.5,234.8 160.5,238.5 170.5,241.0 180.5,245.5 190.5,242.8 200.5,247.2 210.5,249.8 220.5,262.7 230.5,245.0 240.5,249.8 250.5,246.5 260.5,258.5 270.5,244.9 280.5,254.4 290.5,261.0 300.5,262.3 310.5,254.4 320.5,252.3 330.5,250.4 340.5,257.0 350.5,240.0 360.5,243.8 370.5,244.3 380.5,244.7 390.5,233.4 400.5,238.0 410.5,241.0 420.5,245.6 430.5,247.5 440.5,260.0 450.5,261.1 460.5,275.3 470.5,277.1 480.5,291.6 490.5,302.0 500.5,315.3 510.5,314.3 520.5,328.5 530.5,326.6 540.5,338.9 550.5,325.7 560.5,316.2 570.5,305.8 580.5,309.0 590.5,286.8 600.5,278.8 610.5,281.8 620.5,281.9 630.5,265.2 640.5,269.6 650.5,265.0 660.5,269.9 670.5,264.2 680.5,256.2 690.5,247.7"/>
<polyline class="m" stroke="#2000A0" marker-start="url(#k27)" marker-mid="url(#k27)" marker-end="url(#k27)" points="50.5,296.6 60.5,309.5 70.5,299.7 80.5,300.9 90.5,292.8 100.5,293.7 110.5,276.0 120.5,265.5 130.5,258.6 140.5,264.0 150.5,255.3 160.5,258.4 170.5,256.6 180.5,268.0 190.5,259.3 200.5,261.4 210.5,255.9 220.5,260.1 230.5,240.0 240.5,243.2 250.5,237.2 260.5,246.5 270.5,229.5 280.5,235.1 290.5,230.3 300.5,243.2 310.5,244.9 320.5,254.2 330.5,255.1 340.5,262.7 350.5,257.0 360.5,273.6 370.5,274.6 380.5,287.1 390.5,284.7 400.5,293.2 410.5,292.1 420.5,290.3 430.5,274.6 440.5,279.3 450.5,277.3 460.5,287.5 470.5,274.1 480.5,284.2 490.5,292.7 500.5,301.3 510.5,288.1 520.5,297.9 530.5,297.2 540.5,308.9 550.5,306.9 560.5,310.8 570.5,312.0 580.5,308.9 590.5,296.4 600.5,293.8 610.5,293.7 620.5,304.1 630.5,301.2 640.5,315.9 650.5,319.2 660.5,330.9 670.5,323.7 680.5,319.3 690.5,320.1"/>
<polyline class="m" stroke="#E0C8A0" marker-start="url(#k28)" marker-mid="url(#k28)" marker-end="url(#k28)" points="50.5,296.9 60.5,310.0 70.5,297.9 80.5,298.6 90.5,291.9 100.5,292.9 110.5,276.2 120.5,265.7 130.5,260.1 140.5,267.8 150.5,256.7 160.5,265.8 170.5,262.5 180.5,276.5 190.5,268.7 200.5,269.0 210.5,273.3 220.5,286.1 230.5,265.2 240.5,273.2 250.5,268.9 260.5,279.0 270.5,262.9 280.5,272.0 290.5,267.1 300.5,284.5 310.5,271.4 320.5,281.7 330.5,285.2 340.5,301.3 350.5,289.1 360.5,298.2 370.5,303.4 380.5,308.3 390.5,289.0 400.5,290.5 410.5,274.7 420.5,260.4 430.5,232.7 440.5,227.0 450.5,216.9 460.5,223.2 470.5,213.8 480.5,213.1 490.5,216.2 500.5,234.9 510.5,226.4 520.5,236.1 530.5,237.4 540.5,247.1 550.5,233.7 560.5,236.1 570.5,233.2 580.5,255.6 590.5,248.3 600.5,322.8 610.5,336.8 620.5,351.4 630.5,348.0 640.5,357.0 650.5,351.8 660.5,361.4 670.5,357.0 680.5,358.8 690.5,356.2"/>
<polyline class="m" stroke="#800010" marker-start="url(#k29)" marker-mid="url(#k29)" marker-end="url(#k29)" points="50.5,294.0 60.5,304.1 70.5,288.2 80.5,285.8 90.5,278.5 100.5,277.0 110.5,260.5 120.5,246.2 130.5,242.5 140.5,247.4 150.5,234.3 160.5,232.5 170.5,229.9 180.5,241.5 190.5,230.3 200.5,238.4 210.5,238.4 220.5,249.7 230.5,241.6 240.5,246.0 250.5,244.0 260.5,249.0 270.5,238.4 280.5,244.0 290.5,226.2 300.5,221.4 310.5,198.9 320.5,197.5 330.5,193.4 340.5,207.9 350.5,195.0 360.5,201.4 370.5,204.3 380.5,218.1 390.5,216.4 400.5,235.4 410.5,233.9 420.5,236.3 430.5,225.4 440.5,231.5 450.5,232.7 460.5,248.1 470.5,240.4 480.5,239.8 490.5,236.6 500.5,238.6 510.5,232.5 520.5,242.2 530.5,247.1 540.5,255.6 550.5,248.3 560.5,261.6 570.5,259.2 580.5,276.2 590.5,270.0 600.5,277.0 610.5,285.0 620.5,289.4 630.5,270.4 640.5,263.6 650.5,259.5 660.5,255.4 670.5,243.2 680.5,244.9 690.5,250.5"/>
<polyline class="m" stroke="#0030C0" marker-start="url(#k30)" marker-mid="url(#k30)" marker-end="url(#k30)" points="50.5,296.0 60.5,310.0 70.5,298.0 80.5,301.0 90.5,294.0 100.5,296.0 110.5,283.4 120.5,272.2 130.5,263.3 140.5,268.5 150.5,258.0 160.5,259.4 170.5,256.5 180.5,270.3 190.5,260.3 200.5,265.3 210.5,271.9 220.5,281.6 230.5,265.8 240.5,277.0 250.5,274.7 260.5,282.0 270.5,269.8 280.5,282.8 290.5,287.0 300.5,296.6 310.5,276.1 320.5,285.4 330.5,281.3 340.5,293.1 350.5,269.1 360.5,277.6 370.5,277.2 380.5,281.6 390.5,266.5 400.5,275.9 410.5,275.6 420.5,277.8 430.5,261.8 440.5,264.6 450.5,267.4 460.5,277.0 470.5,259.0 480.5,271.2 490.5,281.7 500.5,289.3 510.5,278.2 520.5,302.4 530.5,305.4 540.5,319.6 550.5,305.8 560.5,313.4 570.5,320.0 580.5,332.4 590.5,309.6 600.5,316.0 610.5,304.9 620.5,309.5 630.5,299.5 640.5,308.4 650.5,305.9 660.5,314.0 670.5,299.2 680.5,294.6 690.5,292.2"/>
<polyline class="m" stroke="#E08030" points="60.5,545.5 70.5,545.5 80.5,545.5 90.5,545.5 100.5,545.5 110.5,545.5 120.5,545.5 130.5,545.5 140.5,545.5 150.5,545.5 160.5,545.5 170.5,545.5 180.5,545.5 190.5,544.1 200.5,543.7 210.5,545.5 220.5,545.5 230.5,545.5 240.5,545.5 250.5,545.5 260.5,545.5 270.5,545.5 280.5,545.5 290.5,545.5 300.5,545.5 310.5,544.8 320.5,542.1 330.5,545.5 340.5,545.5 350.5,545.5 360.5,543.9 370.5,545.5 380.5,545.5 390.5,538.0 400.5,542.1 410.5,545.5 420.5,545.5 430.5,542.1 440.5,545.5 450.5,545.5 460.5,544.0 470.5,545.5 480.5,545.5 490.5,544.9 500.5,545.5 510.5,545.5 520.5,545.5 530.5,544.5 540.5,545.5 550.5,545.5 560.5,540.5 570.5,545.5 580.5,543.0 590.5,543.8 600.5,545.5 610.5,545.5 620.5,544.7 630.5,545.5 640.5,544.4 650.5,545.5 660.5,545.5 670.5,545.5 680.5,545.5 690.5,541.7"/>
<path d="M320 541h1v1h1v1h-1v1h-1v-1h-1v-1h1zM390 536h1v1h1v1h-1v1h-1v-1h-1v-1h1zM400 541h1v1h1v1h-1v1h-1v-1h-1v-1h1zM430 541h1v1h1v1h-1v1h-1v-1h-1v-1h1zM560 539h1v1h1v1h-1v1h-1v-1h-1v-1h1zM690 540h1v1h1v1h-1v1h-1v-1h-1v-1h1z" fill="#E08030"/>
<polyline class="m" stroke="#80C070" points="60.5,545.5 70.5,545.5 80.5,545.5 90.5,545.5 100.5,545.5 110.5,545.5 120.5,545.5 130.5,545.5 140.5,545.5 150.5,545.5 160.5,545.5 170.5,545.5 180.5,545.5 190.5,545.5 200.5,545.5 210.5,545.5 220.5,545.5 230.5,545.5 240.5,545.5 250.5,545.5 260.5,538.4 270.5,545.5 280.5,536.2 290.5,545.5 300.5,545.5 310.5,542.9 320.5,543.6 330.5,541.7 340.5,544.9 350.5,545.5 360.5,545.5 370.5,545.5 380.5,545.5 390.5,545.5 400.5,544.6 410.5,545.5 420.5,545.5 430.5,544.8 440.5,545.5 450.5,545.5 460.5,544.1 470.5,545.5 480.5,540.4 490.5,545.5 500.5,544.2 510.5,545.5 520.5,539.0 530.5,545.5 540.5,545.5 550.5,545.5 560.5,545.5 570.5,539.5 580.5,545.5 590.5,544.3 600.5,545.5 610.5,544.6 620.5,541.7 630.5,545.5 640.5,544.6 650.5,545.5 660.5,545.5 670.5,544.7 680.5,545.5 690.5,545.5"/>
<path d="M260 537h1v1h1v1h-1v1h-1v-1h-1v-1h1zM280 535h1v1h1v1h-1v1h-1v-1h-1v-1h1zM330 540h1v1h1v1h-1v1h-1v-1h-1v-1h1zM480 539h1v1h1v1h-1v1h-1v-1h-1v-1h1zM520 537h1v1h1v1h-1v1h-1v-1h-1v-1h1zM570 538h1v1h1v1h-1v1h-1v-1h-1v-1h1zM620 540h1v1h1v1h-1v1h-1v-1h-1v-1h1z" fill="#80C070"/>
<polyline class="m" stroke="#F0C000" points="60.5,545.5 70.5,545.5 80.5,545.5 90.5,545.5 100.5,545.5 110.5,545.5 120.5,545.5 130.5,545.5 140.5,545.5 150.5,545.5 160.5,545.5 170.5,541.1 180.5,545.5 190.5,538.0 200.5,526.2 210.5,536.0 220.5,545.5 230.5,545.5 240.5,545.5 250.5,545.5 260.5,545.5 270.5,545.5 280.5,545.5 290.5,545.5 300.5,545.5 310.5,545.5 320.5,545.5 330.5,542.4 340.5,545.5 350.5,545.5 360.5,545.5 370.5,545.5 380.5,545.5 390.5,545.5 400.5,545.5 410.5,540.6 420.5,544.6 430.5,545.5 440.5,545.5 450.5,545.5 460.5,541.1 470.5,545.5 480.5,545.5 490.5,545.5 500.5,544.4 510.5,545.5 520.5,543.9 530.5,545.5 540.5,544.1 550.5,540.5 560.5,545.5 570.5,539.7 580.5,545.5 590.5,543.2 600.5,545.5 610.5,544.3 620.5,538.0 630.5,540.1 640.5,545.5 650.5,545.5 660.5,545.5 670.5,545.5 680.5,545.5 690.5,545.5"/>
<path d="M170 540h1v1h1v1h-1v1h-1v-1h-1v-1h1zM190 536h1v1h1v1h-1v1h-1v-1h-1v-1h1zM200 525h1v1h1v1h-1v1h-1v-1h-1v-1h1zM210 534h1v1h1v1h-1v1h-1v-1h-1v-1h1zM330 541h1v1h1v1h-1v1h-1v-1h-1v-1h1zM410 539h1v1h1v1h-1v1h-1v-1h-1v-1h1zM460 540h1v1h1v1h-1v1h-1v-1h-1v-1h1zM550 539h1v1h1v1h-1v1h-1v-1h-1v-1h1zM570 538h1v1h1v1h-1v1h-1v-1h-1v-1h1zM620 537h1v1h1v1h-1v1h-1v-1h-1v-1h1zM630 539h1v1h1v1h-1v1h-1v-1h-1v-1h1z" fill="#F0C000"/>
<polyline class="m" stroke="#9050B0" points="60.5,545.5 70.5,545.5 80.5,545.5 90.5,545.5 100.5,545.5 110.5,545.5 120.5,545.5 130.5,545.5 140.5,545.5 150.5,545.5 160.5,545.5 170.5,545.5 180.5,545.5 190.5,544.8 200.5,545.5 210.5,545.5 220.5,545.5 230.5,545.5 240.5,545.5 250.5,545.5 260.5,545.5 270.5,545.5 280.5,545.5 290.5,545.5 300.5,545.5 310.5,541.1 320.5,545.5 330.5,530.3 340.5,451.2 350.5,537.8 360.5,534.0 370.5,540.9 380.5,528.4 390.5,544.8 400.5,544.4 410.5,544.6 420.5,545.5 430.5,544.0 440.5,540.9 450.5,543.1 460.5,545.5 470.5,543.0 480.5,470.5 490.5,543.0 500.5,545.5 510.5,544.9 520.5,539.7 530.5,545.5 540.5,543.2 550.5,544.3 560.5,545.5 570.5,545.5 580.5,545.5 590.5,545.5 600.5,545.5 610.5,545.5 620.5,545.5 630.5,545.5 640.5,545.5 650.5,545.5 660.5,545.5 670.5,538.9 680.5,545.5 690.5,545.5"/>
<path d="M310 540h1v1h1v1h-1v1h-1v-1h-1v-1h1zM330 529h1v1h1v1h-1v1h-1v-1h-1v-1h1zM340 450h1v1h1v1h-1v1h-1v-1h-1v-1h1zM350 536h1v1h1v1h-1v1h-1v-1h-1v-1h1zM360 532h1v1h1v1h-1v1h-1v-1h-1v-1h1zM370 539h1v1h1v1h-1v1h-1v-1h-1v-1h1zM380 527h1v1h1v1h-1v1h-1v-1h-1v-1h1zM440 539h1v1h1v1h-1v1h-1v-1h-1v-1h1zM480 469h1v1h1v1h-1v1h-1v-1h-1v-1h1zM520 538h1v1h1v1h-1v1h-1v-1h-1v-1h1zM670 537h1v1h1v1h-1v1h-1v-1h-1v-1h1z" fill="#9050B0"/>
<polyline class="m" stroke="#B05010" points="60.5,545.5 70.5,545.5 80.5,545.5 90.5,545.5 100.5,545.5 110.5,545.5 120.5,545.5 130.5,545.5 140.5,545.5 150.5,545.5 160.5,545.5 170.5,544.6 180.5,541.6 190.5,545.5 200.5,545.5 210.5,545.5 220.5,545.5 230.5,545.5 240.5,545.5 250.5,545.5 260.5,543.4 270.5,533.8 280.5,545.5 290.5,545.5 300.5,545.5 310.5,545.5 320.5,545.5 330.5,540.6 340.5,545.5 350.5,545.5 360.5,545.5 370.5,535.6 380.5,545.5 390.5,545.5 400.5,545.5 410.5,540.0 420.5,505.7 430.5,537.8 440.5,545.5 450.5,545.5 460.5,545.5 470.5,545.5 480.5,543.4 490.5,545.5 500.5,545.5 510.5,543.0 520.5,545.5 530.5,545.5 540.5,545.5 550.5,545.5 560.5,509.5 570.5,545.5 580.5,532.2 590.5,534.0 600.5,545.5 610.5,531.2 620.5,535.0 630.5,544.3 640.5,545.5 650.5,545.5 660.5,543.2 670.5,545.5 680.5,545.5 690.5,545.5"/>
<path d="M180 540h1v1h1v1h-1v1h-1v-1h-1v-1h1zM270 532h1v1h1v1h-1v1h-1v-1h-1v-1h1zM330 539h1v1h1v1h-1v1h-1v-1h-1v-1h1zM370 534h1v1h1v1h-1v1h-1v-1h-1v-1h1zM410 538h1v1h1v1h-1v1h-1v-1h-1v-1h1zM420 504h1v1h1v1h-1v1h-1v-1h-1v-1h1zM430 536h1v1h1v1h-1v1h-1v-1h-1v-1h1zM560 508h1v1h1v1h-1v1h-1v-1h-1v-1h1zM580 531h1v1h1v1h-1v1h-1v-1h-1v-1h1zM590 532h1v1h1v1h-1v1h-1v-1h-1v-1h1zM610 530h1v1h1v1h-1v1h-1v-1h-1v-1h1zM620 534h1v1h1v1h-1v1h-1v-1h-1v-1h1z" fill="#B05010"/>
<polyline class="m" stroke="#508010" points="60.5,545.5 70.5,545.5 80.5,545.5 90.5,545.5 100.5,545.5 110.5,545.5 120.5,545.5 130.5,545.5 140.5,545.5 150.5,545.5 160.5,545.5 170.5,545.5 180.5,545.5 190.5,545.5 200.5,545.5 210.5,545.5 220.5,545.5 230.5,545.5 240.5,545.5 250.5,545.5 260.5,545.5 270.5,545.5 280.5,545.5 290.5,543.6 300.5,545.5 310.5,541.9 320.5,545.5 330.5,545.5 340.5,545.5 350.5,541.7 360.5,545.5 370.5,541.7 380.5,545.5 390.5,545.5 400.5,538.2 410.5,543.0 420.5,544.6 430.5,539.6 440.5,539.1 450.5,545.5 460.5,545.5 470.5,543.8 480.5,541.9 490.5,537.3 500.5,545.5 510.5,545.5 520.5,545.5 530.5,542.8 540.5,545.5 550.5,545.5 560.5,545.5 570.5,545.5 580.5,545.5 590.5,544.4 600.5,545.5 610.5,545.5 620.5,545.5 630.5,544.1 640.5,543.2 650.5,543.7 660.5,545.5 670.5,545.5 680.5,545.5 690.5,545.5"/>
<path d="M310 540h1v1h1v1h-1v1h-1v-1h-1v-1h1zM350 540h1v1h1v1h-1v1h-1v-1h-1v-1h1zM370 540h1v1h1v1h-1v1h-1v-1h-1v-1h1zM400 537h1v1h1v1h-1v1h-1v-1h-1v-1h1zM430 538h1v1h1v1h-1v1h-1v-1h-1v-1h1zM440 538h1v1h1v1h-1v1h-1v-1h-1v-1h1zM480 540h1v1h1v1h-1v1h-1v-1h-1v-1h1zM490 536h1v1h1v1h-1v1h-1v-1h-1v-1h1z" fill="#508010"/>
<polyline class="m" stroke="#1080F0" points="60.5,545.5 70.5,545.5 80.5,545.5 90.5,545.5 100.5,545.5 110.5,545.5 120.5,545.5 130.5,545.5 140.5,545.5 150.5,545.5 160.5,545.5 170.5,541.2 180.5,545.5 190.5,545.5 200.5,545.5 210.5,545.5 220.5,545.5 230.5,545.5 240.5,545.5 250.5,545.5 260.5,545.5 270.5,535.7 280.5,545.5 290.5,545.5 300.5,545.5 310.5,545.5 320.5,545.5 330.5,543.6 340.5,525.5 350.5,528.8 360.5,535.0 370.5,538.0 380.5,536.0 390.5,535.0 400.5,521.8 410.5,539.0 420.5,545.5 430.5,545.5 440.5,545.5 450.5,545.5 460.5,545.5 470.5,543.0 480.5,545.5 490.5,545.5 500.5,543.9 510.5,545.5 520.5,545.5 530.5,543.7 540.5,545.5 550.5,545.5 560.5,543.9 570.5,545.5 580.5,538.1 590.5,545.5 600.5,544.8 610.5,545.5 620.5,542.6 630.5,545.5 640.5,540.2 650.5,535.7 660.5,545.5 670.5,545.5 680.5,545.5 690.5,545.5"/>
<path d="M170 540h1v1h1v1h-1v1h-1v-1h-1v-1h1zM270 534h1v1h1v1h-1v1h-1v-1h-1v-1h1zM340 524h1v1h1v1h-1v1h-1v-1h-1v-1h1zM350 527h1v1h1v1h-1v1h-1v-1h-1v-1h1zM360 534h1v1h1v1h-1v1h-1v-1h-1v-1h1zM370 536h1v1h1v1h-1v1h-1v-1h-1v-1h1zM380 534h1v1h1v1h-1v1h-1v-1h-1v-1h1zM390 534h1v1h1v1h-1v1h-1v-1h-1v-1h1zM400 520h1v1h1v1h-1v1h-1v-1h-1v-1h1zM410 538h1v1h1v1h-1v1h-1v-1h-1v-1h1zM580 537h1v1h1v1h-1v1h-1v-1h-1v-1h1zM640 539h1v1h1v1h-1v1h-1v-1h-1v-1h1zM650 534h1v1h1v1h-1v1h-1v-1h-1v-1h1z" fill="#1080F0"/>
<polyline class="m" stroke="#E8D8B0" points="60.5,545.5 70.5,545.5 80.5,545.5 90.5,545.5 100.5,545.5 110.5,545.5 120.5,545.5 130.5,545.5 140.5,545.5 150.5,545.5 160.5,545.5 170.5,545.5 180.5,539.5 190.5,545.5 200.5,545.5 210.5,545.5 220.5,545.5 230.5,545.5 240.5,545.5 250.5,545.5 260.5,545.5 270.5,545.5 280.5,545.5 290.5,545.5 300.5,545.5 310.5,539.8 320.5,545.5 330.5,543.8 340.5,545.5 350.5,544.7 360.5,545.5 370.5,545.5 380.5,544.8 390.5,542.0 400.5,542.3 410.5,543.9 420.5,540.0 430.5,544.8 440.5,545.5 450.5,545.5 460.5,539.5 470.5,535.0 480.5,545.5 490.5,543.9 500.5,545.5 510.5,545.5 520.5,545.5 530.5,545.5 540.5,545.5 550.5,545.5 560.5,545.5 570.5,545.5 580.5,545.5 590.5,542.6 600.5,545.5 610.5,545.5 620.5,543.2 630.5,545.5 640.5,545.5 650.5,543.3 660.5,545.5 670.5,544.9 680.5,545.5 690.5,543.4"/>
<path d="M180 538h1v1h1v1h-1v1h-1v-1h-1v-1h1zM310 538h1v1h1v1h-1v1h-1v-1h-1v-1h1zM390 541h1v1h1v1h-1v1h-1v-1h-1v-1h1zM400 541h1v1h1v1h-1v1h-1v-1h-1v-1h1zM420 538h1v1h1v1h-1v1h-1v-1h-1v-1h1zM460 538h1v1h1v1h-1v1h-1v-1h-1v-1h1zM470 534h1v1h1v1h-1v1h-1v-1h-1v-1h1z" fill="#E8D8B0"/>
<polyline class="m" stroke="#4090C0" points="60.5,545.5 70.5,545.5 80.5,545.5 90.5,545.5 100.5,545.5 110.5,545.5 120.5,545.5 130.5,545.5 140.5,545.5 150.5,545.5 160.5,545.5 170.5,545.5 180.5,540.0 190.5,531.5 200.5,538.0 210.5,545.5 220.5,545.5 230.5,545.5 240.5,545.5 250.5,545.5 260.5,545.5 270.5,545.5 280.5,545.5 290.5,545.5 300.5,545.5 310.5,545.5 320.5,545.5 330.5,543.8 340.5,543.0 350.5,544.1 360.5,545.5 370.5,544.9 380.5,545.5 390.5,545.5 400.5,545.5 410.5,545.5 420.5,542.1 430.5,544.2 440.5,544.2 450.5,545.5 460.5,545.5 470.5,545.5 480.5,544.0 490.5,545.5 500.5,545.5 510.5,545.5 520.5,542.3 530.5,539.5 540.5,545.5 550.5,545.5 560.5,545.5 570.5,545.5 580.5,539.5 590.5,543.8 600.5,545.5 610.5,545.5 620.5,545.5 630.5,545.5 640.5,545.5 650.5,545.5 660.5,542.5 670.5,545.5 680.5,545.5 690.5,544.6"/>
<path d="M180 538h1v1h1v1h-1v1h-1v-1h-1v-1h1zM190 530h1v1h1v1h-1v1h-1v-1h-1v-1h1zM200 536h1v1h1v1h-1v1h-1v-1h-1v-1h1zM420 541h1v1h1v1h-1v1h-1v-1h-1v-1h1zM520 541h1v1h1v1h-1v1h-1v-1h-1v-1h1zM530 538h1v1h1v1h-1v1h-1v-1h-1v-1h1zM580 538h1v1h1v1h-1v1h-1v-1h-1v-1h1zM660 541h1v1h1v1h-1v1h-1v-1h-1v-1h1z" fill="#4090C0"/>
<polyline class="m" stroke="#E0A050" points="60.5,545.5 70.5,545.5 80.5,545.5 90.5,545.5 100.5,545.5 110.5,545.5 120.5,545.5 130.5,545.5 140.5,545.5 150.5,545.5 160.5,545.5 170.5,545.5 180.5,545.5 190.5,545.5 200.5,545.5 210.5,545.5 220.5,545.5 230.5,545.5 240.5,545.5 250.5,545.5 260.5,544.4 270.5,545.5 280.5,545.5 290.5,545.5 300.5,545.5 310.5,544.6 320.5,540.9 330.5,545.5 340.5,544.1 350.5,545.5 360.5,541.0 370.5,487.7 380.5,493.4 390.5,541.0 400.5,545.5 410.5,518.0 420.5,545.5 430.5,545.5 440.5,536.6 450.5,506.8 460.5,510.5 470.5,360.0 480.5,354.7 490.5,540.0 500.5,521.8 510.5,541.0 520.5,545.5 530.5,545.5 540.5,545.5 550.5,545.5 560.5,539.7 570.5,544.0 580.5,544.1 590.5,545.5 600.5,545.5 610.5,545.5 620.5,543.1 630.5,545.5 640.5,545.5 650.5,545.5 660.5,545.5 670.5,540.3 680.5,545.5 690.5,545.5"/>
<path d="M320 539h1v1h1v1h-1v1h-1v-1h-1v-1h1zM360 540h1v1h1v1h-1v1h-1v-1h-1v-1h1zM370 486h1v1h1v1h-1v1h-1v-1h-1v-1h1zM380 492h1v1h1v1h-1v1h-1v-1h-1v-1h1zM390 540h1v1h1v1h-1v1h-1v-1h-1v-1h1zM410 516h1v1h1v1h-1v1h-1v-1h-1v-1h1zM440 535h1v1h1v1h-1v1h-1v-1h-1v-1h1zM450 505h1v1h1v1h-1v1h-1v-1h-1v-1h1zM460 509h1v1h1v1h-1v1h-1v-1h-1v-1h1zM470 358h1v1h1v1h-1v1h-1v-1h-1v-1h1zM480 353h1v1h1v1h-1v1h-1v-1h-1v-1h1zM490 538h1v1h1v1h-1v1h-1v-1h-1v-1h1zM500 520h1v1h1v1h-1v1h-1v-1h-1v-1h1zM510 540h1v1h1v1h-1v1h-1v-1h-1v-1h1zM560 538h1v1h1v1h-1v1h-1v-1h-1v-1h1zM670 539h1v1h1v1h-1v1h-1v-1h-1v-1h1z" fill="#E0A050"/>
<polyline class="m" stroke="#605020" points="60.5,545.5 70.5,545.5 80.5,545.5 90.5,545.5 100.5,545.5 110.5,545.5 120.5,545.5 130.5,545.5 140.5,545.5 150.5,545.5 160.5,545.5 170.5,545.5 180.5,541.6 190.5,545.5 200.5,545.5 210.5,545.5 220.5,542.9 230.5,545.5 240.5,545.5 250.5,545.5 260.5,545.5 270.5,545.5 280.5,545.5 290.5,544.0 300.5,545.5 310.5,545.5 320.5,545.5 330.5,545.5 340.5,545.5 350.5,545.5 360.5,545.5 370.5,544.9 380.5,542.3 390.5,542.1 400.5,545.5 410.5,545.5 420.5,545.5 430.5,545.5 440.5,545.5 450.5,545.5 460.5,545.5 470.5,545.5 480.5,545.5 490.5,545.5 500.5,545.5 510.5,545.5 520.5,545.5 530.5,545.5 540.5,545.5 550.5,545.5 560.5,544.5 570.5,545.5 580.5,545.5 590.5,545.5 600.5,544.5 610.5,544.8 620.5,538.4 630.5,458.7 640.5,429.7 650.5,536.3 660.5,543.2 670.5,534.9 680.5,541.2 690.5,534.7"/>
<path d="M180 540h1v1h1v1h-1v1h-1v-1h-1v-1h1zM380 541h1v1h1v1h-1v1h-1v-1h-1v-1h1zM390 541h1v1h1v1h-1v1h-1v-1h-1v-1h1zM620 537h1v1h1v1h-1v1h-1v-1h-1v-1h1zM630 457h1v1h1v1h-1v1h-1v-1h-1v-1h1zM640 428h1v1h1v1h-1v1h-1v-1h-1v-1h1zM650 535h1v1h1v1h-1v1h-1v-1h-1v-1h1zM670 533h1v1h1v1h-1v1h-1v-1h-1v-1h1zM680 540h1v1h1v1h-1v1h-1v-1h-1v-1h1zM690 533h1v1h1v1h-1v1h-1v-1h-1v-1h1z" fill="#605020"/>
<polyline class="m" stroke="#F06020" points="60.5,545.5 70.5,545.5 80.5,545.5 90.5,545.5 100.5,545.5 110.5,545.5 120.5,545.5 130.5,545.5 140.5,545.5 150.5,545.5 160.5,545.5 170.5,545.5 180.5,544.0 190.5,534.0 200.5,545.5 210.5,545.5 220.5,540.6 230.5,545.5 240.5,545.5 250.5,545.5 260.5,545.5 270.5,545.5 280.5,545.5 290.5,545.5 300.5,545.5 310.5,545.5 320.5,545.5 330.5,545.5 340.5,545.5 350.5,543.7 360.5,545.5 370.5,545.5 380.5,545.5 390.5,545.5 400.5,545.5 410.5,545.5 420.5,545.5 430.5,545.5 440.5,545.5 450.5,545.5 460.5,545.5 470.5,545.5 480.5,545.5 490.5,545.5 500.5,545.5 510.5,545.5 520.5,545.5 530.5,545.5 540.5,544.3 550.5,545.5 560.5,544.3 570.5,545.5 580.5,545.5 590.5,545.5 600.5,544.5 610.5,544.9 620.5,543.1 630.5,545.5 640.5,545.5 650.5,545.5 660.5,545.5 670.5,536.9 680.5,542.4 690.5,542.8"/>
<path d="M190 532h1v1h1v1h-1v1h-1v-1h-1v-1h1zM220 539h1v1h1v1h-1v1h-1v-1h-1v-1h1zM670 535h1v1h1v1h-1v1h-1v-1h-1v-1h1zM680 541h1v1h1v1h-1v1h-1v-1h-1v-1h1z" fill="#F06020"/>
<polyline class="m" stroke="#D0C070" points="60.5,545.5 70.5,545.5 80.5,545.5 90.5,545.5 100.5,545.5 110.5,545.5 120.5,545.5 130.5,545.5 140.5,545.5 150.5,545.5 160.5,545.5 170.5,545.5 180.5,545.5 190.5,545.5 200.5,545.5 210.5,545.5 220.5,545.5 230.5,545.5 240.5,545.5 250.5,545.5 260.5,545.5 270.5,545.5 280.5,545.5 290.5,545.5 300.5,545.5 310.5,540.4 320.5,545.5 330.5,545.5 340.5,545.5 350.5,545.5 360.5,540.0 370.5,545.5 380.5,544.5 390.5,545.5 400.5,544.8 410.5,544.0 420.5,543.8 430.5,545.5 440.5,545.5 450.5,545.5 460.5,545.5 470.5,545.5 480.5,545.5 490.5,545.5 500.5,545.5 510.5,544.4 520.5,544.4 530.5,521.2 540.5,513.5 550.5,541.0 560.5,544.7 570.5,545.5 580.5,545.5 590.5,545.5 600.5,545.5 610.5,544.6 620.5,545.5 630.5,544.8 640.5,545.5 650.5,544.8 660.5,545.5 670.5,541.3 680.5,545.5 690.5,538.2"/>
<path d="M310 539h1v1h1v1h-1v1h-1v-1h-1v-1h1zM360 539h1v1h1v1h-1v1h-1v-1h-1v-1h1zM530 520h1v1h1v1h-1v1h-1v-1h-1v-1h1zM540 512h1v1h1v1h-1v1h-1v-1h-1v-1h1zM550 540h1v1h1v1h-1v1h-1v-1h-1v-1h1zM670 540h1v1h1v1h-1v1h-1v-1h-1v-1h1zM690 537h1v1h1v1h-1v1h-1v-1h-1v-1h1z" fill="#D0C070"/>
<polyline class="m" stroke="#10D050" points="60.5,545.5 70.5,545.5 80.5,545.5 90.5,545.5 100.5,545.5 110.5,545.5 120.5,545.5 130.5,545.5 140.5,545.5 150.5,545.5 160.5,545.5 170.5,545.5 180.5,545.5 190.5,545.5 200.5,545.5 210.5,545.5 220.5,540.0 230.5,534.2 240.5,541.0 250.5,545.5 260.5,545.5 270.5,545.5 280.5,545.5 290.5,545.5 300.5,545.5 310.5,545.5 320.5,545.5 330.5,545.5 340.5,545.5 350.5,535.9 360.5,545.5 370.5,545.5 380.5,545.5 390.5,545.5 400.5,545.5 410.5,545.5 420.5,545.5 430.5,543.1 440.5,545.5 450.5,545.5 460.5,541.1 470.5,544.5 480.5,545.5 490.5,545.5 500.5,542.7 510.5,545.5 520.5,545.5 530.5,537.4 540.5,540.0 550.5,545.5 560.5,545.5 570.5,545.5 580.5,543.4 590.5,545.5 600.5,545.5 610.5,543.3 620.5,545.5 630.5,545.5 640.5,545.5 650.5,545.5 660.5,545.5 670.5,545.5 680.5,542.9 690.5,545.5"/>
<path d="M220 538h1v1h1v1h-1v1h-1v-1h-1v-1h1zM230 533h1v1h1v1h-1v1h-1v-1h-1v-1h1zM240 540h1v1h1v1h-1v1h-1v-1h-1v-1h1zM350 534h1v1h1v1h-1v1h-1v-1h-1v-1h1zM460 540h1v1h1v1h-1v1h-1v-1h-1v-1h1zM530 536h1v1h1v1h-1v1h-1v-1h-1v-1h1zM540 539h1v1h1v1h-1v1h-1v-1h-1v-1h1z" fill="#10D050"/>
<polyline class="m" stroke="#204060" points="60.5,545.5 70.5,545.5 80.5,545.5 90.5,545.5 100.5,545.5 110.5,545.5 120.5,545.5 130.5,545.5 140.5,545.5 150.5,545.5 160.5,545.5 170.5,545.5 180.5,545.5 190.5,545.5 200.5,545.5 210.5,545.5 220.5,541.0 230.5,545.5 240.5,545.5 250.5,545.5 260.5,539.9 270.5,545.5 280.5,545.5 290.5,545.5 300.5,545.5 310.5,545.5 320.5,545.5 330.5,540.3 340.5,545.5 350.5,542.5 360.5,541.1 370.5,545.5 380.5,545.5 390.5,544.1 400.5,545.5 410.5,545.5 420.5,534.0 430.5,536.6 440.5,489.9 450.5,527.3 460.5,542.0 470.5,541.9 480.5,545.5 490.5,525.8 500.5,545.5 510.5,545.5 520.5,545.5 530.5,540.7 540.5,538.1 550.5,541.0 560.5,496.0 570.5,540.5 580.5,545.5 590.5,545.5 600.5,545.5 610.5,540.8 620.5,545.5 630.5,545.5 640.5,545.5 650.5,544.2 660.5,545.5 670.5,545.5 680.5,545.5 690.5,545.5"/>
<path d="M220 539h1v1h1v1h-1v1h-1v-1h-1v-1h1zM260 538h1v1h1v1h-1v1h-1v-1h-1v-1h1zM330 539h1v1h1v1h-1v1h-1v-1h-1v-1h1zM350 541h1v1h1v1h-1v1h-1v-1h-1v-1h1zM360 540h1v1h1v1h-1v1h-1v-1h-1v-1h1zM420 532h1v1h1v1h-1v1h-1v-1h-1v-1h1zM430 535h1v1h1v1h-1v1h-1v-1h-1v-1h1zM440 488h1v1h1v1h-1v1h-1v-1h-1v-1h1zM450 526h1v1h1v1h-1v1h-1v-1h-1v-1h1zM460 540h1v1h1v1h-1v1h-1v-1h-1v-1h1zM470 540h1v1h1v1h-1v1h-1v-1h-1v-1h1zM490 524h1v1h1v1h-1v1h-1v-1h-1v-1h1zM530 539h1v1h1v1h-1v1h-1v-1h-1v-1h1zM540 537h1v1h1v1h-1v1h-1v-1h-1v-1h1zM550 540h1v1h1v1h-1v1h-1v-1h-1v-1h1zM560 494h1v1h1v1h-1v1h-1v-1h-1v-1h1zM570 539h1v1h1v1h-1v1h-1v-1h-1v-1h1zM610 539h1v1h1v1h-1v1h-1v-1h-1v-1h1z" fill="#204060"/>
<polyline class="m" stroke="#607080" points="60.5,545.5 70.5,545.5 80.5,545.5 90.5,545.5 100.5,545.5 110.5,545.5 120.5,545.5 130.5,545.5 140.5,545.5 150.5,545.5 160.5,545.5 170.5,545.5 180.5,545.5 190.5,545.5 200.5,545.5 210.5,545.5 220.5,545.5 230.5,545.5 240.5,545.5 250.5,545.5 260.5,545.5 270.5,545.5 280.5,545.5 290.5,545.5 300.5,545.5 310.5,545.5 320.5,542.8 330.5,545.5 340.5,545.5 350.5,545.5 360.5,544.5 370.5,545.5 380.5,545.5 390.5,545.5 400.5,545.5 410.5,545.5 420.5,545.5 430.5,545.5 440.5,545.5 450.5,542.9 460.5,545.5 470.5,545.5 480.5,545.5 490.5,545.5 500.5,543.5 510.5,545.5 520.5,545.5 530.5,545.5 540.5,545.5 550.5,544.2 560.5,545.5 570.5,544.0 580.5,545.5 590.5,545.5 600.5,545.5 610.5,545.5 620.5,545.5 630.5,545.5 640.5,545.5 650.5,545.5 660.5,543.0 670.5,545.5 680.5,545.5 690.5,545.5"/>
<polyline class="m" stroke="#E070F0" points="60.5,545.5 70.5,545.5 80.5,545.5 90.5,545.5 100.5,545.5 110.5,545.5 120.5,545.5 130.5,545.5 140.5,545.5 150.5,545.5 160.5,545.5 170.5,545.5 180.5,545.5 190.5,535.7 200.5,545.5 210.5,545.5 220.5,545.5 230.5,545.5 240.5,545.5 250.5,545.5 260.5,544.1 270.5,545.5 280.5,543.9 290.5,545.5 300.5,545.5 310.5,545.5 320.5,545.5 330.5,545.5 340.5,545.5 350.5,541.0 360.5,527.4 370.5,518.9 380.5,490.5 390.5,539.7 400.5,541.0 410.5,518.9 420.5,541.0 430.5,545.5 440.5,541.3 450.5,534.0 460.5,544.9 470.5,545.5 480.5,542.2 490.5,545.5 500.5,543.9 510.5,544.2 520.5,545.5 530.5,542.9 540.5,543.4 550.5,545.5 560.5,544.7 570.5,545.5 580.5,545.5 590.5,545.5 600.5,545.5 610.5,545.5 620.5,543.7 630.5,545.5 640.5,545.5 650.5,545.5 660.5,545.5 670.5,545.5 680.5,545.5 690.5,545.5"/>
<path d="M190 534h1v1h1v1h-1v1h-1v-1h-1v-1h1zM350 540h1v1h1v1h-1v1h-1v-1h-1v-1h1zM360 526h1v1h1v1h-1v1h-1v-1h-1v-1h1zM370 517h1v1h1v1h-1v1h-1v-1h-1v-1h1zM380 489h1v1h1v1h-1v1h-1v-1h-1v-1h1zM390 538h1v1h1v1h-1v1h-1v-1h-1v-1h1zM400 540h1v1h1v1h-1v1h-1v-1h-1v-1h1zM410 517h1v1h1v1h-1v1h-1v-1h-1v-1h1zM420 540h1v1h1v1h-1v1h-1v-1h-1v-1h1zM440 540h1v1h1v1h-1v1h-1v-1h-1v-1h1zM450 532h1v1h1v1h-1v1h-1v-1h-1v-1h1zM480 541h1v1h1v1h-1v1h-1v-1h-1v-1h1z" fill="#E070F0"/>
<polyline class="m" stroke="#8020F0" points="60.5,545.5 70.5,545.5 80.5,545.5 90.5,545.5 100.5,545.5 110.5,545.5 120.5,545.5 130.5,545.5 140.5,545.5 150.5,545.5 160.5,545.5 170.5,545.5 180.5,545.5 190.5,545.5 200.5,545.5 210.5,545.5 220.5,545.5 230.5,545.5 240.5,545.5 250.5,545.5 260.5,545.5 270.5,545.5 280.5,545.5 290.5,543.1 300.5,541.8 310.5,545.5 320.5,545.5 330.5,545.5 340.5,545.5 350.5,545.5 360.5,544.8 370.5,545.5 380.5,539.6 390.5,545.5 400.5,545.5 410.5,545.5 420.5,543.9 430.5,545.5 440.5,545.5 450.5,543.0 460.5,545.5 470.5,545.5 480.5,545.5 490.5,545.5 500.5,539.6 510.5,438.3 520.5,422.3 530.5,524.3 540.5,543.0 550.5,539.5 560.5,545.5 570.5,540.8 580.5,540.4 590.5,545.5 600.5,544.0 610.5,544.6 620.5,543.9 630.5,543.6 640.5,540.4 650.5,545.5 660.5,542.9 670.5,541.6 680.5,545.5 690.5,545.5"/>
<path d="M300 540h1v1h1v1h-1v1h-1v-1h-1v-1h1zM380 538h1v1h1v1h-1v1h-1v-1h-1v-1h1zM500 538h1v1h1v1h-1v1h-1v-1h-1v-1h1zM510 437h1v1h1v1h-1v1h-1v-1h-1v-1h1zM520 421h1v1h1v1h-1v1h-1v-1h-1v-1h1zM530 523h1v1h1v1h-1v1h-1v-1h-1v-1h1zM550 538h1v1h1v1h-1v1h-1v-1h-1v-1h1zM570 539h1v1h1v1h-1v1h-1v-1h-1v-1h1zM580 539h1v1h1v1h-1v1h-1v-1h-1v-1h1zM640 539h1v1h1v1h-1v1h-1v-1h-1v-1h1zM670 540h1v1h1v1h-1v1h-1v-1h-1v-1h1z" fill="#8020F0"/>
<polyline class="m" stroke="#806030" points="60.5,545.5 70.5,545.5 80.5,545.5 90.5,545.5 100.5,545.5 110.5,545.5 120.5,545.5 130.5,545.5 140.5,545.5 150.5,545.5 160.5,545.5 170.5,544.5 180.5,545.5 190.5,545.5 200.5,542.9 210.5,545.5 220.5,545.5 230.5,545.5 240.5,540.9 250.5,545.5 260.5,544.5 270.5,545.5 280.5,545.5 290.5,545.5 300.5,545.5 310.5,543.9 320.5,535.0 330.5,511.3 340.5,541.0 350.5,544.5 360.5,545.5 370.5,521.8 380.5,533.1 390.5,538.4 400.5,545.5 410.5,545.5 420.5,544.8 430.5,545.5 440.5,545.5 450.5,543.3 460.5,545.5 470.5,542.6 480.5,543.7 490.5,545.5 500.5,545.5 510.5,545.5 520.5,545.5 530.5,545.5 540.5,545.5 550.5,545.5 560.5,545.5 570.5,544.6 580.5,523.9 590.5,534.3 600.5,545.5 610.5,544.7 620.5,545.5 630.5,545.5 640.5,545.5 650.5,545.5 660.5,545.5 670.5,545.5 680.5,541.2 690.5,545.5"/>
<path d="M240 539h1v1h1v1h-1v1h-1v-1h-1v-1h1zM320 534h1v1h1v1h-1v1h-1v-1h-1v-1h1zM330 510h1v1h1v1h-1v1h-1v-1h-1v-1h1zM340 540h1v1h1v1h-1v1h-1v-1h-1v-1h1zM370 520h1v1h1v1h-1v1h-1v-1h-1v-1h1zM380 532h1v1h1v1h-1v1h-1v-1h-1v-1h1zM390 537h1v1h1v1h-1v1h-1v-1h-1v-1h1zM580 522h1v1h1v1h-1v1h-1v-1h-1v-1h1zM590 533h1v1h1v1h-1v1h-1v-1h-1v-1h1zM680 540h1v1h1v1h-1v1h-1v-1h-1v-1h1z" fill="#806030"/>
<polyline class="m" stroke="#300070" points="60.5,545.5 70.5,545.5 80.5,545.5 90.5,545.5 100.5,545.5 110.5,545.5 120.5,545.5 130.5,545.5 140.5,545.5 150.5,545.5 160.5,545.5 170.5,545.5 180.5,545.5 190.5,544.3 200.5,545.5 210.5,543.0 220.5,543.1 230.5,545.5 240.5,545.5 250.5,545.5 260.5,543.6 270.5,538.5 280.5,538.5 290.5,545.5 300.5,545.5 310.5,541.2 320.5,542.0 330.5,542.7 340.5,545.5 350.5,545.5 360.5,539.0 370.5,544.9 380.5,545.5 390.5,545.5 400.5,545.5 410.5,537.7 420.5,545.5 430.5,545.5 440.5,526.7 450.5,542.4 460.5,542.2 470.5,545.5 480.5,544.0 490.5,544.0 500.5,545.5 510.5,513.5 520.5,545.5 530.5,544.1 540.5,542.1 550.5,545.5 560.5,545.5 570.5,545.5 580.5,545.5 590.5,545.5 600.5,540.8 610.5,544.6 620.5,543.8 630.5,545.5 640.5,541.0 650.5,545.5 660.5,545.5 670.5,545.5 680.5,545.5 690.5,545.5"/>
<path d="M270 537h1v1h1v1h-1v1h-1v-1h-1v-1h1zM280 537h1v1h1v1h-1v1h-1v-1h-1v-1h1zM310 540h1v1h1v1h-1v1h-1v-1h-1v-1h1zM320 540h1v1h1v1h-1v1h-1v-1h-1v-1h1zM360 538h1v1h1v1h-1v1h-1v-1h-1v-1h1zM410 536h1v1h1v1h-1v1h-1v-1h-1v-1h1zM440 525h1v1h1v1h-1v1h-1v-1h-1v-1h1zM450 541h1v1h1v1h-1v1h-1v-1h-1v-1h1zM460 541h1v1h1v1h-1v1h-1v-1h-1v-1h1zM510 512h1v1h1v1h-1v1h-1v-1h-1v-1h1zM540 541h1v1h1v1h-1v1h-1v-1h-1v-1h1zM600 539h1v1h1v1h-1v1h-1v-1h-1v-1h1zM640 540h1v1h1v1h-1v1h-1v-1h-1v-1h1z" fill="#300070"/>
<polyline class="m" stroke="#F0D000" points="60.5,545.5 70.5,545.5 80.5,545.5 90.5,545.5 100.5,545.5 110.5,545.5 120.5,545.5 130.5,545.5 140.5,545.5 150.5,545.5 160.5,545.5 170.5,545.5 180.5,545.5 190.5,545.5 200.5,535.0 210.5,530.4 220.5,543.0 230.5,474.2 240.5,526.2 250.5,543.5 260.5,545.5 270.5,545.5 280.5,541.1 290.5,535.3 300.5,545.5 310.5,545.5 320.5,534.0 330.5,545.5 340.5,545.5 350.5,545.5 360.5,537.3 370.5,544.1 380.5,545.5 390.5,545.5 400.5,545.5 410.5,545.5 420.5,545.5 430.5,545.5 440.5,544.2 450.5,545.5 460.5,545.5 470.5,545.5 480.5,517.5 490.5,544.7 500.5,544.9 510.5,545.5 520.5,545.5 530.5,545.5 540.5,545.5 550.5,544.7 560.5,545.5 570.5,537.6 580.5,545.5 590.5,545.5 600.5,529.7 610.5,545.5 620.5,545.5 630.5,538.7 640.5,545.5 650.5,541.4 660.5,543.9 670.5,545.5 680.5,544.0 690.5,545.5"/>
<path d="M200 534h1v1h1v1h-1v1h-1v-1h-1v-1h1zM210 529h1v1h1v1h-1v1h-1v-1h-1v-1h1zM230 473h1v1h1v1h-1v1h-1v-1h-1v-1h1zM240 525h1v1h1v1h-1v1h-1v-1h-1v-1h1zM280 540h1v1h1v1h-1v1h-1v-1h-1v-1h1zM290 534h1v1h1v1h-1v1h-1v-1h-1v-1h1zM320 532h1v1h1v1h-1v1h-1v-1h-1v-1h1zM360 536h1v1h1v1h-1v1h-1v-1h-1v-1h1zM480 516h1v1h1v1h-1v1h-1v-1h-1v-1h1zM570 536h1v1h1v1h-1v1h-1v-1h-1v-1h1zM600 528h1v1h1v1h-1v1h-1v-1h-1v-1h1zM630 537h1v1h1v1h-1v1h-1v-1h-1v-1h1zM650 540h1v1h1v1h-1v1h-1v-1h-1v-1h1z" fill="#F0D000"/>
<polyline class="m" stroke="#2060A0" points="60.5,545.5 70.5,545.5 80.5,545.5 90.5,545.5 100.5,545.5 110.5,545.5 120.5,545.5 130.5,545.5 140.5,545.5 150.5,545.5 160.5,545.5 170.5,545.5 180.5,545.5 190.5,541.7 200.5,545.5 210.5,545.5 220.5,545.5 230.5,545.5 240.5,545.5 250.5,545.5 260.5,543.9 270.5,545.5 280.5,545.5 290.5,544.4 300.5,545.5 310.5,544.1 320.5,545.5 330.5,541.4 340.5,541.0 350.5,529.3 360.5,518.9 370.5,515.1 380.5,447.4 390.5,500.0 400.5,541.6 410.5,544.8 420.5,545.5 430.5,545.5 440.5,545.5 450.5,545.5 460.5,544.7 470.5,545.5 480.5,545.5 490.5,543.2 500.5,545.5 510.5,542.6 520.5,545.5 530.5,534.0 540.5,544.2 550.5,544.2 560.5,545.5 570.5,545.5 580.5,545.5 590.5,544.7 600.5,545.5 610.5,528.5 620.5,541.9 630.5,545.5 640.5,542.8 650.5,545.5 660.5,545.5 670.5,545.5 680.5,544.4 690.5,545.5"/>
<path d="M190 540h1v1h1v1h-1v1h-1v-1h-1v-1h1zM330 540h1v1h1v1h-1v1h-1v-1h-1v-1h1zM340 540h1v1h1v1h-1v1h-1v-1h-1v-1h1zM350 528h1v1h1v1h-1v1h-1v-1h-1v-1h1zM360 517h1v1h1v1h-1v1h-1v-1h-1v-1h1zM370 514h1v1h1v1h-1v1h-1v-1h-1v-1h1zM380 446h1v1h1v1h-1v1h-1v-1h-1v-1h1zM390 498h1v1h1v1h-1v1h-1v-1h-1v-1h1zM400 540h1v1h1v1h-1v1h-1v-1h-1v-1h1zM530 532h1v1h1v1h-1v1h-1v-1h-1v-1h1zM610 527h1v1h1v1h-1v1h-1v-1h-1v-1h1zM620 540h1v1h1v1h-1v1h-1v-1h-1v-1h1z" fill="#2060A0"/>
<polyline class="m" stroke="#905820" points="60.5,545.5 70.5,545.5 80.5,545.5 90.5,545.5 100.5,545.5 110.5,545.5 120.5,545.5 130.5,545.5 140.5,545.5 150.5,545.5 160.5,545.5 170.5,545.5 180.5,537.2 190.5,535.8 200.5,545.5 210.5,545.5 220.5,545.5 230.5,545.5 240.5,545.5 250.5,545.5 260.5,545.5 270.5,545.5 280.5,545.5 290.5,545.5 300.5,545.5 310.5,545.5 320.5,543.9 330.5,545.5 340.5,539.0 350.5,540.9 360.5,536.4 370.5,544.5 380.5,540.5 390.5,543.6 400.5,544.0 410.5,545.5 420.5,545.5 430.5,545.5 440.5,544.7 450.5,545.5 460.5,542.3 470.5,545.5 480.5,543.2 490.5,545.5 500.5,543.9 510.5,540.5 520.5,545.5 530.5,545.5 540.5,545.5 550.5,545.5 560.5,541.3 570.5,545.5 580.5,543.3 590.5,545.5 600.5,545.5 610.5,545.5 620.5,542.1 630.5,545.5 640.5,545.5 650.5,545.5 660.5,542.1 670.5,545.5 680.5,523.5 690.5,545.5"/>
<path d="M180 536h1v1h1v1h-1v1h-1v-1h-1v-1h1zM190 534h1v1h1v1h-1v1h-1v-1h-1v-1h1zM340 538h1v1h1v1h-1v1h-1v-1h-1v-1h1zM350 539h1v1h1v1h-1v1h-1v-1h-1v-1h1zM360 535h1v1h1v1h-1v1h-1v-1h-1v-1h1zM380 539h1v1h1v1h-1v1h-1v-1h-1v-1h1zM460 541h1v1h1v1h-1v1h-1v-1h-1v-1h1zM510 539h1v1h1v1h-1v1h-1v-1h-1v-1h1zM560 540h1v1h1v1h-1v1h-1v-1h-1v-1h1zM620 541h1v1h1v1h-1v1h-1v-1h-1v-1h1zM660 541h1v1h1v1h-1v1h-1v-1h-1v-1h1zM680 522h1v1h1v1h-1v1h-1v-1h-1v-1h1z" fill="#905820"/>
<polyline class="m" stroke="#A088F0" points="60.5,545.5 70.5,545.5 80.5,545.5 90.5,545.5 100.5,545.5 110.5,545.5 120.5,545.5 130.5,545.5 140.5,545.5 150.5,545.5 160.5,545.5 170.5,545.5 180.5,545.5 190.5,545.5 200.5,534.0 210.5,545.5 220.5,545.5 230.5,545.5 240.5,545.5 250.5,545.5 260.5,545.5 270.5,545.5 280.5,545.5 290.5,545.5 300.5,545.5 310.5,545.5 320.5,545.5 330.5,524.6 340.5,484.9 350.5,519.0 360.5,541.0 370.5,542.0 380.5,545.5 390.5,545.5 400.5,545.5 410.5,544.5 420.5,541.6 430.5,545.5 440.5,540.6 450.5,544.7 460.5,530.4 470.5,544.5 480.5,545.5 490.5,540.0 500.5,545.5 510.5,545.5 520.5,542.5 530.5,545.5 540.5,544.8 550.5,545.5 560.5,545.5 570.5,519.8 580.5,545.5 590.5,545.5 600.5,545.5 610.5,545.5 620.5,545.5 630.5,545.5 640.5,542.5 650.5,531.2 660.5,537.4 670.5,545.5 680.5,545.5 690.5,545.5"/>
<path d="M200 532h1v1h1v1h-1v1h-1v-1h-1v-1h1zM330 523h1v1h1v1h-1v1h-1v-1h-1v-1h1zM340 483h1v1h1v1h-1v1h-1v-1h-1v-1h1zM350 518h1v1h1v1h-1v1h-1v-1h-1v-1h1zM360 540h1v1h1v1h-1v1h-1v-1h-1v-1h1zM370 540h1v1h1v1h-1v1h-1v-1h-1v-1h1zM420 540h1v1h1v1h-1v1h-1v-1h-1v-1h1zM440 539h1v1h1v1h-1v1h-1v-1h-1v-1h1zM460 529h1v1h1v1h-1v1h-1v-1h-1v-1h1zM490 538h1v1h1v1h-1v1h-1v-1h-1v-1h1zM570 518h1v1h1v1h-1v1h-1v-1h-1v-1h1zM650 530h1v1h1v1h-1v1h-1v-1h-1v-1h1zM660 536h1v1h1v1h-1v1h-1v-1h-1v-1h1z" fill="#A088F0"/>
<polyline class="m" stroke="#98F030" points="60.5,545.5 70.5,545.5 80.5,545.5 90.5,545.5 100.5,545.5 110.5,545.5 120.5,545.5 130.5,545.5 140.5,545.5 150.5,545.5 160.5,545.5 170.5,545.5 180.5,544.7 190.5,540.0 200.5,508.2 210.5,539.5 220.5,545.5 230.5,545.5 240.5,545.5 250.5,545.5 260.5,545.5 270.5,545.5 280.5,545.5 290.5,545.5 300.5,545.5 310.5,545.5 320.5,528.4 330.5,524.6 340.5,541.6 350.5,545.5 360.5,543.5 370.5,545.5 380.5,544.6 390.5,545.5 400.5,545.5 410.5,545.5 420.5,545.5 430.5,540.3 440.5,545.5 450.5,545.5 460.5,545.5 470.5,538.6 480.5,539.9 490.5,543.7 500.5,545.5 510.5,544.8 520.5,541.7 530.5,545.5 540.5,545.5 550.5,545.5 560.5,544.5 570.5,545.5 580.5,541.9 590.5,542.4 600.5,545.5 610.5,545.5 620.5,545.5 630.5,545.5 640.5,545.5 650.5,541.8 660.5,545.5 670.5,544.4 680.5,544.6 690.5,543.2"/>
<path d="M190 538h1v1h1v1h-1v1h-1v-1h-1v-1h1zM200 507h1v1h1v1h-1v1h-1v-1h-1v-1h1zM210 538h1v1h1v1h-1v1h-1v-1h-1v-1h1zM320 527h1v1h1v1h-1v1h-1v-1h-1v-1h1zM330 523h1v1h1v1h-1v1h-1v-1h-1v-1h1zM340 540h1v1h1v1h-1v1h-1v-1h-1v-1h1zM430 539h1v1h1v1h-1v1h-1v-1h-1v-1h1zM470 537h1v1h1v1h-1v1h-1v-1h-1v-1h1zM480 538h1v1h1v1h-1v1h-1v-1h-1v-1h1zM520 540h1v1h1v1h-1v1h-1v-1h-1v-1h1zM580 540h1v1h1v1h-1v1h-1v-1h-1v-1h1zM590 541h1v1h1v1h-1v1h-1v-1h-1v-1h1zM650 540h1v1h1v1h-1v1h-1v-1h-1v-1h1z" fill="#98F030"/>
<polyline class="m" stroke="#D070D0" points="60.5,545.5 70.5,545.5 80.5,545.5 90.5,545.5 100.5,545.5 110.5,545.5 120.5,545.5 130.5,545.5 140.5,545.5 150.5,545.5 160.5,545.5 170.5,545.5 180.5,545.5 190.5,540.2 200.5,545.5 210.5,545.5 220.5,545.5 230.5,545.5 240.5,536.1 250.5,545.5 260.5,545.5 270.5,545.5 280.5,545.5 290.5,545.5 300.5,545.5 310.5,545.5 320.5,539.9 330.5,545.5 340.5,541.9 350.5,544.2 360.5,545.5 370.5,541.2 380.5,545.5 390.5,545.5 400.5,545.5 410.5,544.8 420.5,545.5 430.5,545.5 440.5,545.5 450.5,545.5 460.5,545.5 470.5,545.5 480.5,545.5 490.5,542.4 500.5,545.5 510.5,545.5 520.5,545.5 530.5,545.5 540.5,540.2 550.5,545.5 560.5,545.5 570.5,540.5 580.5,545.5 590.5,545.5 600.5,542.2 610.5,545.5 620.5,545.5 630.5,545.5 640.5,544.6 650.5,545.5 660.5,543.5 670.5,545.5 680.5,545.5 690.5,544.4"/>
<path d="M190 539h1v1h1v1h-1v1h-1v-1h-1v-1h1zM240 535h1v1h1v1h-1v1h-1v-1h-1v-1h1zM320 538h1v1h1v1h-1v1h-1v-1h-1v-1h1zM340 540h1v1h1v1h-1v1h-1v-1h-1v-1h1zM370 540h1v1h1v1h-1v1h-1v-1h-1v-1h1zM490 541h1v1h1v1h-1v1h-1v-1h-1v-1h1zM540 539h1v1h1v1h-1v1h-1v-1h-1v-1h1zM570 539h1v1h1v1h-1v1h-1v-1h-1v-1h1zM600 541h1v1h1v1h-1v1h-1v-1h-1v-1h1z" fill="#D070D0"/>
<polyline class="m" stroke="#2000A0" points="60.5,545.5 70.5,545.5 80.5,545.5 90.5,545.5 100.5,545.5 110.5,545.5 120.5,545.5 130.5,545.5 140.5,545.5 150.5,545.5 160.5,545.5 170.5,545.5 180.5,544.6 190.5,545.5 200.5,544.6 210.5,545.5 220.5,545.5 230.5,545.5 240.5,545.5 250.5,545.5 260.5,545.5 270.5,545.5 280.5,545.5 290.5,545.5 300.5,545.5 310.5,545.5 320.5,543.7 330.5,545.5 340.5,545.5 350.5,545.5 360.5,545.5 370.5,545.5 380.5,545.5 390.5,545.5 400.5,541.7 410.5,539.3 420.5,541.2 430.5,545.5 440.5,545.5 450.5,541.2 460.5,541.5 470.5,544.1 480.5,545.5 490.5,545.5 500.5,541.9 510.5,545.5 520.5,545.5 530.5,534.0 540.5,545.5 550.5,538.6 560.5,545.5 570.5,545.5 580.5,545.5 590.5,545.5 600.5,545.5 610.5,545.5 620.5,542.7 630.5,545.5 640.5,545.5 650.5,544.7 660.5,531.0 670.5,537.0 680.5,532.0 690.5,541.0"/>
<path d="M400 540h1v1h1v1h-1v1h-1v-1h-1v-1h1zM410 538h1v1h1v1h-1v1h-1v-1h-1v-1h1zM420 540h1v1h1v1h-1v1h-1v-1h-1v-1h1zM450 540h1v1h1v1h-1v1h-1v-1h-1v-1h1zM460 540h1v1h1v1h-1v1h-1v-1h-1v-1h1zM500 540h1v1h1v1h-1v1h-1v-1h-1v-1h1zM530 532h1v1h1v1h-1v1h-1v-1h-1v-1h1zM550 537h1v1h1v1h-1v1h-1v-1h-1v-1h1zM660 530h1v1h1v1h-1v1h-1v-1h-1v-1h1zM670 536h1v1h1v1h-1v1h-1v-1h-1v-1h1zM680 530h1v1h1v1h-1v1h-1v-1h-1v-1h1zM690 540h1v1h1v1h-1v1h-1v-1h-1v-1h1z" fill="#2000A0"/>
<polyline class="m" stroke="#E0C8A0" points="60.5,545.5 70.5,545.5 80.5,545.5 90.5,545.5 100.5,545.5 110.5,545.5 120.5,545.5 130.5,545.5 140.5,545.5 150.5,545.5 160.5,545.5 170.5,543.5 180.5,539.0 190.5,536.2 200.5,545.5 210.5,545.5 220.5,545.5 230.5,545.5 240.5,545.5 250.5,545.5 260.5,545.5 270.5,545.5 280.5,545.5 290.5,545.5 300.5,545.5 310.5,545.5 320.5,545.5 330.5,545.5 340.5,545.5 350.5,543.4 360.5,545.5 370.5,545.5 380.5,545.5 390.5,545.5 400.5,545.5 410.5,545.5 420.5,545.5 430.5,545.5 440.5,544.2 450.5,545.5 460.5,539.8 470.5,545.5 480.5,545.5 490.5,545.5 500.5,543.8 510.5,545.5 520.5,544.5 530.5,545.5 540.5,545.5 550.5,545.5 560.5,545.5 570.5,545.5 580.5,545.5 590.5,539.5 600.5,545.5 610.5,541.8 620.5,545.5 630.5,545.5 640.5,535.3 650.5,506.9 660.5,538.4 670.5,540.9 680.5,545.5 690.5,543.7"/>
<path d="M180 538h1v1h1v1h-1v1h-1v-1h-1v-1h1zM190 535h1v1h1v1h-1v1h-1v-1h-1v-1h1zM460 538h1v1h1v1h-1v1h-1v-1h-1v-1h1zM590 538h1v1h1v1h-1v1h-1v-1h-1v-1h1zM610 540h1v1h1v1h-1v1h-1v-1h-1v-1h1zM640 534h1v1h1v1h-1v1h-1v-1h-1v-1h1zM650 505h1v1h1v1h-1v1h-1v-1h-1v-1h1zM660 537h1v1h1v1h-1v1h-1v-1h-1v-1h1zM670 539h1v1h1v1h-1v1h-1v-1h-1v-1h1z" fill="#E0C8A0"/>
<polyline class="m" stroke="#800010" points="60.5,545.5 70.5,545.5 80.5,545.5 90.5,545.5 100.5,545.5 110.5,545.5 120.5,545.5 130.5,545.5 140.5,545.5 150.5,545.5 160.5,545.5 170.5,545.5 180.5,545.5 190.5,539.7 200.5,545.5 210.5,545.5 220.5,545.5 230.5,545.5 240.5,545.5 250.5,545.5 260.5,545.5 270.5,545.5 280.5,545.5 290.5,545.5 300.5,545.5 310.5,545.5 320.5,545.5 330.5,545.5 340.5,545.5 350.5,541.0 360.5,541.1 370.5,541.6 380.5,545.5 390.5,545.5 400.5,541.1 410.5,545.5 420.5,538.2 430.5,545.5 440.5,545.5 450.5,544.6 460.5,545.5 470.5,545.5 480.5,541.0 490.5,540.4 500.5,545.5 510.5,542.7 520.5,545.5 530.5,545.5 540.5,545.5 550.5,545.5 560.5,544.6 570.5,545.5 580.5,545.5 590.5,545.5 600.5,545.5 610.5,545.5 620.5,545.5 630.5,545.5 640.5,539.5 650.5,543.8 660.5,543.7 670.5,541.5 680.5,545.5 690.5,545.5"/>
<path d="M190 538h1v1h1v1h-1v1h-1v-1h-1v-1h1zM350 539h1v1h1v1h-1v1h-1v-1h-1v-1h1zM360 540h1v1h1v1h-1v1h-1v-1h-1v-1h1zM370 540h1v1h1v1h-1v1h-1v-1h-1v-1h1zM400 540h1v1h1v1h-1v1h-1v-1h-1v-1h1zM420 537h1v1h1v1h-1v1h-1v-1h-1v-1h1zM480 539h1v1h1v1h-1v1h-1v-1h-1v-1h1zM490 539h1v1h1v1h-1v1h-1v-1h-1v-1h1zM640 538h1v1h1v1h-1v1h-1v-1h-1v-1h1zM670 540h1v1h1v1h-1v1h-1v-1h-1v-1h1z" fill="#800010"/>
<polyline class="m" stroke="#0030C0" points="60.5,545.5 70.5,545.5 80.5,545.5 90.5,545.5 100.5,545.5 110.5,545.5 120.5,545.5 130.5,545.5 140.5,545.5 150.5,545.5 160.5,545.5 170.5,545.5 180.5,545.5 190.5,545.5 200.5,545.5 210.5,545.5 220.5,545.5 230.5,545.5 240.5,545.5 250.5,545.5 260.5,545.5 270.5,545.5 280.5,545.5 290.5,545.5 300.5,545.5 310.5,545.5 320.5,545.5 330.5,545.5 340.5,545.5 350.5,545.5 360.5,545.5 370.5,545.5 380.5,545.5 390.5,544.9 400.5,542.4 410.5,545.5 420.5,545.5 430.5,541.0 440.5,545.5 450.5,545.5 460.5,545.5 470.5,541.7 480.5,543.6 490.5,544.5 500.5,545.5 510.5,545.5 520.5,538.8 530.5,545.5 540.5,523.4 550.5,545.5 560.5,545.5 570.5,545.5 580.5,545.5 590.5,545.5 600.5,542.8 610.5,543.0 620.5,543.1 630.5,545.5 640.5,545.5 650.5,545.5 660.5,545.5 670.5,545.5 680.5,545.5 690.5,545.5"/>
<path d="M400 541h1v1h1v1h-1v1h-1v-1h-1v-1h1zM430 539h1v1h1v1h-1v1h-1v-1h-1v-1h1zM470 540h1v1h1v1h-1v1h-1v-1h-1v-1h1zM520 537h1v1h1v1h-1v1h-1v-1h-1v-1h1zM540 522h1v1h1v1h-1v1h-1v-1h-1v-1h1z" fill="#0030C0"/>
<polyline fill="none" stroke="#ff0000" stroke-width="3" stroke-linejoin="round" points="50.5,294.0 60.5,305.0 70.5,292.0 80.5,290.0 90.5,283.5 100.5,282.5 110.5,265.0 120.5,257.5 130.5,251.5 140.5,255.0 150.5,248.0 160.5,251.5 170.5,250.7 180.5,259.5 190.5,254.0 200.5,258.0 210.5,258.5 220.5,264.0 230.5,253.0 240.5,258.2 250.5,256.5 260.5,263.8 270.5,254.1 280.5,261.4 290.5,263.8 300.5,275.9 310.5,271.1 320.5,277.1 330.5,279.1 340.5,288.1 350.5,279.0 360.5,285.5 370.5,285.5 380.5,289.3 390.5,278.0 400.5,282.3 410.5,278.5 420.5,278.3 430.5,265.5 440.5,269.4 450.5,266.2 460.5,272.3 470.5,267.3 480.5,273.8 490.5,275.5 500.5,281.1 510.5,273.8 520.5,281.1 530.5,283.5 540.5,290.8 550.5,282.8 560.5,287.1 570.5,288.3 580.5,294.9 590.5,289.7 600.5,294.0 610.5,295.9 620.5,301.5 630.5,295.2 640.5,299.6 650.5,300.0 660.5,304.9 670.5,296.6 680.5,293.5 690.5,291.1"/>
<polyline fill="none" stroke="#ff0000" stroke-width="3" stroke-linejoin="round" points="60.5,545.5 70.5,545.5 80.5,545.5 90.5,545.5 100.5,545.5 110.5,545.5 120.5,545.5 130.5,545.5 140.5,545.5 150.5,545.5 160.5,545.5 170.5,545.5 180.5,544.0 190.5,544.0 200.5,541.3 210.5,542.5 220.5,543.5 230.5,542.5 240.5,544.0 250.5,544.0 260.5,544.0 270.5,544.0 280.5,544.0 290.5,544.0 300.5,544.0 310.5,544.0 320.5,543.0 330.5,541.0 340.5,539.3 350.5,542.6 360.5,541.5 370.5,539.7 380.5,538.2 390.5,542.6 400.5,544.0 410.5,542.0 420.5,542.0 430.5,544.0 440.5,541.5 450.5,542.0 460.5,541.5 470.5,539.6 480.5,534.1 490.5,541.2 500.5,542.0 510.5,540.2 520.5,539.0 530.5,542.0 540.5,544.0 550.5,544.0 560.5,541.5 570.5,544.0 580.5,542.5 590.5,544.0 600.5,544.0 610.5,544.0 620.5,544.0 630.5,542.0 640.5,540.5 650.5,542.5 660.5,544.0 670.5,544.0 680.5,544.0 690.5,545.0"/>
<text x="60" y="230" class="s" textLength="48" lengthAdjust="spacingAndGlyphs">Pression</text>
<text x="60" y="539" class="s" textLength="84" lengthAdjust="spacingAndGlyphs">Précipitations</text>
<rect x="35" y="645" width="31" height="4" fill="#ff0000"/>
<text x="75" y="651" class="s" textLength="126" lengthAdjust="spacingAndGlyphs">Moyenne des scénarios</text>
<rect x="225" y="635" width="31" height="4" fill="#0000ff"/>
<rect x="225" y="645" width="31" height="4" fill="#000"/>
<text x="264" y="641" class="s" textLength="90" lengthAdjust="spacingAndGlyphs">Run de contrôle</text>
<text x="264" y="651" class="s" textLength="42" lengthAdjust="spacingAndGlyphs">Run GFS</text>
<text x="180" y="664" class="s" textLength="150" lengthAdjust="spacingAndGlyphs">Altitude du modele : 316m</text>
<text x="340" y="656" class="s" textLength="54" lengthAdjust="spacingAndGlyphs">30 Perts.</text>
<rect x="400" y="650" width="10" height="6" fill="#E08030"/>
<text x="400.5" y="647.3" class="t" textLength="9.3" lengthAdjust="spacingAndGlyphs">01</text>
<rect x="411" y="650" width="10" height="6" fill="#80C070"/>
<text x="411.5" y="647.3" class="t" textLength="9.3" lengthAdjust="spacingAndGlyphs">02</text>
<rect x="422" y="650" width="10" height="6" fill="#F0C000"/>
<text x="422.5" y="647.3" class="t" textLength="9.3" lengthAdjust="spacingAndGlyphs">03</text>
<rect x="433" y="650" width="10" height="6" fill="#9050B0"/>
<text x="433.5" y="647.3" class="t" textLength="9.3" lengthAdjust="spacingAndGlyphs">04</text>
<rect x="444" y="650" width="10" height="6" fill="#B05010"/>
<text x="444.5" y="647.3" class="t" textLength="9.3" lengthAdjust="spacingAndGlyphs">05</text>
<rect x="455" y="650" width="10" height="6" fill="#508010"/>
<text x="455.5" y="647.3" class="t" textLength="9.3" lengthAdjust="spacingAndGlyphs">06</text>
<rect x="466" y="650" width="10" height="6" fill="#1080F0"/>
<text x="466.5" y="647.3" class="t" textLength="9.3" lengthAdjust="spacingAndGlyphs">07</text>
<rect x="477" y="650" width="10" height="6" fill="#E8D8B0"/>
<text x="477.5" y="647.3" class="t" textLength="9.3" lengthAdjust="spacingAndGlyphs">08</text>
<rect x="488" y="650" width="10" height="6" fill="#4090C0"/>
<text x="488.5" y="647.3" class="t" textLength="9.3" lengthAdjust="spacingAndGlyphs">09</text>
<rect x="499" y="650" width="10" height="6" fill="#E0A050"/>
<text x="499.5" y="647.3" class="t" textLength="9.3" lengthAdjust="spacingAndGlyphs">10</text>
<rect x="510" y="650" width="10" height="6" fill="#605020"/>
<text x="510.5" y="647.3" class="t" textLength="9.3" lengthAdjust="spacingAndGlyphs">11</text>
<rect x="521" y="650" width="10" height="6" fill="#F06020"/>
<text x="521.5" y="647.3" class="t" textLength="9.3" lengthAdjust="spacingAndGlyphs">12</text>
<rect x="532" y="650" width="10" height="6" fill="#D0C070"/>
<text x="532.5" y="647.3" class="t" textLength="9.3" lengthAdjust="spacingAndGlyphs">13</text>
<rect x="543" y="650" width="10" height="6" fill="#10D050"/>
<text x="543.5" y="647.3" class="t" textLength="9.3" lengthAdjust="spacingAndGlyphs">14</text>
<rect x="554" y="650" width="10" height="6" fill="#204060"/>
<text x="554.5" y="647.3" class="t" textLength="9.3" lengthAdjust="spacingAndGlyphs">15</text>
<rect x="565" y="650" width="10" height="6" fill="#607080"/>
<text x="565.5" y="647.3" class="t" textLength="9.3" lengthAdjust="spacingAndGlyphs">16</text>
<rect x="576" y="650" width="10" height="6" fill="#E070F0"/>
<text x="576.5" y="647.3" class="t" textLength="9.3" lengthAdjust="spacingAndGlyphs">17</text>
<rect x="587" y="650" width="10" height="6" fill="#8020F0"/>
<text x="587.5" y="647.3" class="t" textLength="9.3" lengthAdjust="spacingAndGlyphs">18</text>
<rect x="598" y="650" width="10" height="6" fill="#806030"/>
<text x="598.5" y="647.3" class="t" textLength="9.3" lengthAdjust="spacingAndGlyphs">19</text>
<rect x="609" y="650" width="10" height="6" fill="#300070"/>
<text x="609.5" y="647.3" class="t" textLength="9.3" lengthAdjust="spacingAndGlyphs">20</text>
<rect x="620" y="650" width="10" height="6" fill="#F0D000"/>
<text x="620.5" y="647.3" class="t" textLength="9.3" lengthAdjust="spacingAndGlyphs">21</text>
<rect x="631" y="650" width="10" height="6" fill="#2060A0"/>
<text x="631.5" y="647.3" class="t" textLength="9.3" lengthAdjust="spacingAndGlyphs">22</text>
<rect x="642" y="650" width="10" height="6" fill="#905820"/>
<text x="642.5" y="647.3" class="t" textLength="9.3" lengthAdjust="spacingAndGlyphs">23</text>
<rect x="653" y="650" width="10" height="6" fill="#A088F0"/>
<text x="653.5" y="647.3" class="t" textLength="9.3" lengthAdjust="spacingAndGlyphs">24</text>
<rect x="664" y="650" width="10" height="6" fill="#98F030"/>
<text x="664.5" y="647.3" class="t" textLength="9.3" lengthAdjust="spacingAndGlyphs">25</text>
<rect x="675" y="650" width="10" height="6" fill="#D070D0"/>
<text x="675.5" y="647.3" class="t" textLength="9.3" lengthAdjust="spacingAndGlyphs">26</text>
<rect x="686" y="650" width="10" height="6" fill="#2000A0"/>
<text x="686.5" y="647.3" class="t" textLength="9.3" lengthAdjust="spacingAndGlyphs">27</text>
<rect x="697" y="650" width="10" height="6" fill="#E0C8A0"/>
<text x="697.5" y="647.3" class="t" textLength="9.3" lengthAdjust="spacingAndGlyphs">28</text>
<rect x="708" y="650" width="10" height="6" fill="#800010"/>
<text x="708.5" y="647.3" class="t" textLength="9.3" lengthAdjust="spacingAndGlyphs">29</text>
<rect x="719" y="650" width="10" height="6" fill="#0030C0"/>
<text x="719.5" y="647.3" class="t" textLength="9.3" lengthAdjust="spacingAndGlyphs">30</text>
<path d="M20.5 700V667.5H440.5V700" stroke="#000" stroke-width="1" fill="none"/>
<text x="30" y="681" class="b" textLength="350" lengthAdjust="spacingAndGlyphs">Diagramme des ensembles GEFS sur 384h : 38.4N 0.4W</text>
<text x="30" y="695.7" class="s" textLength="336" lengthAdjust="spacingAndGlyphs">Pression au niveau de la mer (hPa) , précipitations (mm)</text>
<text x="450" y="677" class="s" textLength="198" lengthAdjust="spacingAndGlyphs">Ensemble GEFS du 21/04/2026 - 12Z</text>
<text x="450" y="696.5" class="b" textLength="189" lengthAdjust="spacingAndGlyphs">Copyright 2026 Meteociel.fr</text>
</svg></body></html>
